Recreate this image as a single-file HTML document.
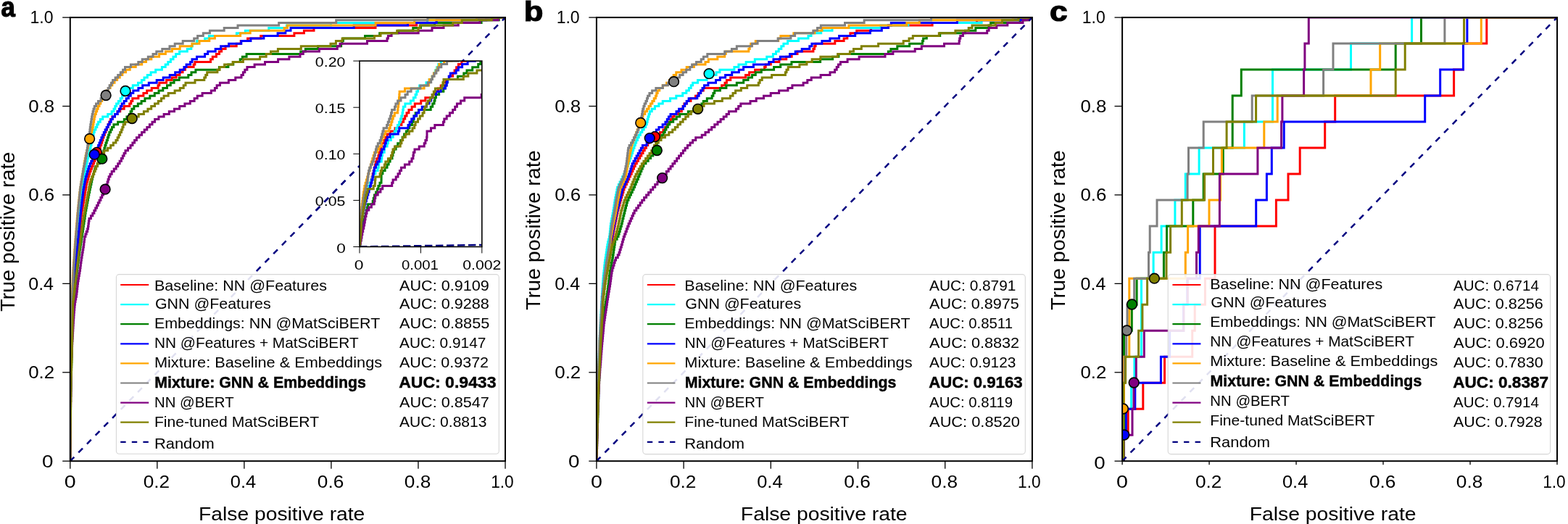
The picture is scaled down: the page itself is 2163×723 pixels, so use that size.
<!DOCTYPE html>
<html><head><meta charset="utf-8"><style>html,body{margin:0;padding:0;background:#fff;overflow:hidden;width:2163px;height:723px;}svg{display:block;}</style></head><body>
<svg width="2163" height="723" viewBox="0 0 2163 723" font-family="'Liberation Sans', Arial, sans-serif">
<rect width="100%" height="100%" fill="#fff"/>
<defs>
<clipPath id="clipa"><rect x="96.80" y="24.10" width="600.20" height="612.10"/></clipPath>
<clipPath id="clipb"><rect x="822.90" y="24.10" width="601.00" height="612.10"/></clipPath>
<clipPath id="clipc"><rect x="1548.10" y="24.10" width="599.90" height="612.10"/></clipPath>
<clipPath id="clipi"><rect x="496.0" y="84.1" width="168.80" height="256.40"/></clipPath>
<clipPath id="clipaout"><rect x="420" y="215" width="75.2" height="100"/></clipPath>
</defs>
<g clip-path="url(#clipa)" fill="none" stroke-linejoin="miter">
<polyline points="96.8,636.2 96.8,632.6 96.9,632.6 96.9,621.8 97,621.8 97,611 97.1,611 97.1,600.2 97.2,600.2 97.2,589.4 97.3,589.4 97.3,578.6 97.4,578.6 97.4,567.8 97.5,567.8 97.5,557 97.6,557 97.6,546.2 97.7,546.2 97.7,539 97.8,539 97.8,531.8 97.9,531.8 97.9,528.2 98,528.2 98,524.6 98.1,524.6 98.1,517.4 98.2,517.4 98.2,513.8 98.3,513.8 98.3,510.2 98.4,510.2 98.4,506.6 98.5,506.6 98.5,499.4 98.6,499.4 98.6,495.8 98.7,495.8 98.7,492.2 98.8,492.2 98.8,485 98.9,485 98.9,481.4 99,481.4 99,477.8 99.1,477.8 99.1,470.6 99.2,470.6 99.2,467 99.3,467 99.3,463.4 99.4,463.4 99.4,459.8 99.5,459.8 99.5,456.2 99.7,456.2 99.7,452.6 99.8,452.6 99.8,449 99.9,449 99.9,445.4 100,445.4 100,441.8 100.1,441.8 100.1,438.2 100.2,438.2 100.2,434.6 100.3,434.6 100.3,431 100.4,431 100.4,427.4 100.5,427.4 100.5,423.8 100.6,423.8 100.6,420.2 100.7,420.2 100.7,416.6 101,416.6 101,413 101.3,413 101.3,409.4 101.5,409.4 101.5,405.8 101.8,405.8 101.8,402.2 102.1,402.2 102.1,398.6 102.3,398.6 102.3,395 102.6,395 102.6,391.4 103,391.4 103,387.8 103.4,387.8 103.4,384.2 103.7,384.2 103.7,380.6 104.1,380.6 104.1,377 104.4,377 104.4,373.4 104.8,373.4 104.8,369.8 105.2,369.8 105.2,366.2 105.5,366.2 105.5,362.6 105.9,362.6 105.9,359 106.2,359 106.2,355.4 106.6,355.4 106.6,351.8 107,351.8 107,348.2 107.3,348.2 107.3,344.6 107.7,344.6 107.7,341 108,341 108,337.4 108.4,337.4 108.4,333.8 108.8,333.8 108.8,330.2 109.1,330.2 109.1,326.6 109.5,326.6 109.5,323 109.8,323 109.8,319.4 110.2,319.4 110.2,315.8 110.6,315.8 110.6,312.2 110.9,312.2 110.9,308.6 111.3,308.6 111.3,305 111.6,305 111.6,301.4 112,301.4 112,297.8 112.4,297.8 112.4,294.2 113,294.2 113,290.6 113.6,290.6 113.6,287 114.2,287 114.2,283.4 114.8,283.4 114.8,279.8 115.4,279.8 115.4,276.2 116,276.2 116,272.6 116.6,272.6 116.6,269 117.2,269 117.2,265.4 117.8,265.4 117.8,261.8 118.4,261.8 118.4,258.2 119,258.2 119,254.6 119.6,254.6 119.6,251 120.6,251 120.6,247.4 121.7,247.4 121.7,243.8 122.7,243.8 122.7,240.2 123.8,240.2 123.8,236.6 125.1,236.6 125.1,233 126.6,233 126.6,229.4 128.1,229.4 128.1,225.8 129.5,225.8 129.5,222.2 131,222.2 131,218.6 132.5,218.6 132.5,215 134,215 134,211.4 135.5,211.4 135.5,207.8 136.9,207.8 136.9,204.2 138.3,204.2 138.3,200.6 139.7,200.6 139.7,197 140.8,197 140.8,193.4 141.9,193.4 141.9,189.8 143,189.8 143,186.2 144.4,186.2 144.4,182.6 146,182.6 146,179 147.6,179 147.6,175.4 149.2,175.4 149.2,171.8 150.8,171.8 150.8,168.2 152.4,168.2 152.4,164.6 154.9,164.6 154.9,161 158.5,161 158.5,157.4 162.1,157.4 162.1,153.8 165.7,153.8 165.7,150.2 171.2,150.2 171.2,146.6 178.7,146.6 178.7,143 180.8,143 180.8,139.4 182.8,139.4 182.8,135.8 190.9,135.8 190.9,132.2 197.9,132.2 197.9,128.6 202.7,128.6 202.7,125 209.2,125 209.2,121.4 218,121.4 218,117.8 219.8,117.8 219.8,114.2 229.6,114.2 229.6,110.6 237.2,110.6 237.2,107 243.1,107 243.1,103.4 247.9,103.4 247.9,99.8 252,99.8 252,96.2 255.5,96.2 255.5,92.6 267.1,92.6 267.1,89 268.9,89 268.9,85.4 290.5,85.4 290.5,81.8 293.3,81.8 293.3,78.2 298.4,78.2 298.4,74.6 302.5,74.6 302.5,71 305.6,71 305.6,67.4 311.1,67.4 311.1,63.8 326.2,63.8 326.2,60.2 332.2,60.2 332.2,56.6 341.6,56.6 341.6,53 359.7,53 359.7,49.4 405.9,49.4 405.9,45.8 419.4,45.8 419.4,42.2 433,42.2 433,38.6 518,38.6 518,35 574.7,35 574.7,31.4 602,31.4 602,27.8 670.7,27.8 670.7,24.2 697,24.2 697,24.1" stroke="#ff0000" stroke-width="3.0"/>
<polyline points="96.8,636.2 96.8,629 96.9,629 96.9,614.6 97,614.6 97,600.2 97.1,600.2 97.1,589.4 97.2,589.4 97.2,575 97.3,575 97.3,560.6 97.4,560.6 97.4,546.2 97.5,546.2 97.5,535.4 97.6,535.4 97.6,531.8 97.7,531.8 97.7,524.6 97.8,524.6 97.8,517.4 97.9,517.4 97.9,510.2 98,510.2 98,506.6 98.1,506.6 98.1,499.4 98.2,499.4 98.2,492.2 98.3,492.2 98.3,485 98.4,485 98.4,477.8 98.5,477.8 98.5,474.2 98.6,474.2 98.6,467 98.7,467 98.7,463.4 98.8,463.4 98.8,459.8 98.9,459.8 98.9,456.2 99,456.2 99,452.6 99.1,452.6 99.1,449 99.2,449 99.2,445.4 99.3,445.4 99.3,441.8 99.4,441.8 99.4,438.2 99.5,438.2 99.5,434.6 99.6,434.6 99.6,431 99.7,431 99.7,423.8 99.8,423.8 99.8,420.2 99.9,420.2 99.9,416.6 100,416.6 100,413 100.1,413 100.1,409.4 100.3,409.4 100.3,405.8 100.4,405.8 100.4,402.2 100.6,402.2 100.6,398.6 100.7,398.6 100.7,395 100.9,395 100.9,391.4 101,391.4 101,387.8 101.2,387.8 101.2,384.2 101.3,384.2 101.3,380.6 101.5,380.6 101.5,377 101.7,377 101.7,373.4 102,373.4 102,369.8 102.2,369.8 102.2,366.2 102.5,366.2 102.5,362.6 102.8,362.6 102.8,359 103.1,359 103.1,355.4 103.3,355.4 103.3,351.8 103.6,351.8 103.6,348.2 103.9,348.2 103.9,344.6 104.2,344.6 104.2,341 104.5,341 104.5,337.4 104.8,337.4 104.8,333.8 105.1,333.8 105.1,330.2 105.5,330.2 105.5,326.6 105.8,326.6 105.8,323 106.2,323 106.2,319.4 106.6,319.4 106.6,315.8 106.9,315.8 106.9,312.2 107.3,312.2 107.3,308.6 107.6,308.6 107.6,305 108,305 108,301.4 108.4,301.4 108.4,297.8 108.8,297.8 108.8,294.2 109.2,294.2 109.2,290.6 109.6,290.6 109.6,287 110,287 110,283.4 110.4,283.4 110.4,279.8 110.9,279.8 110.9,276.2 111.4,276.2 111.4,272.6 112,272.6 112,269 112.5,269 112.5,265.4 113,265.4 113,261.8 113.6,261.8 113.6,258.2 114.1,258.2 114.1,254.6 114.7,254.6 114.7,251 115.2,251 115.2,247.4 115.8,247.4 115.8,243.8 116.5,243.8 116.5,240.2 117.2,240.2 117.2,236.6 117.9,236.6 117.9,233 118.5,233 118.5,229.4 119.2,229.4 119.2,225.8 119.9,225.8 119.9,222.2 120.8,222.2 120.8,218.6 121.7,218.6 121.7,215 122.5,215 122.5,211.4 123.4,211.4 123.4,207.8 124.3,207.8 124.3,204.2 125.1,204.2 125.1,200.6 126,200.6 126,197 126.8,197 126.8,193.4 127.5,193.4 127.5,189.8 128.3,189.8 128.3,186.2 129.1,186.2 129.1,182.6 130.2,182.6 130.2,179 132,179 132,175.4 133.8,175.4 133.8,171.8 135.6,171.8 135.6,168.2 138.3,168.2 138.3,164.6 141.7,164.6 141.7,161 148.7,161 148.7,157.4 154.1,157.4 154.1,153.8 157,153.8 157,150.2 158.8,150.2 158.8,146.6 160.6,146.6 160.6,143 163.4,143 163.4,139.4 166.2,139.4 166.2,135.8 168.6,135.8 168.6,132.2 171,132.2 171,128.6 173.6,128.6 173.6,125 178.4,125 178.4,121.4 183.3,121.4 183.3,117.8 190.5,117.8 190.5,114.2 195.4,114.2 195.4,110.6 199,110.6 199,107 203.3,107 203.3,103.4 208.1,103.4 208.1,99.8 214.7,99.8 214.7,96.2 223.4,96.2 223.4,92.6 228.2,92.6 228.2,89 231.8,89 231.8,85.4 235.4,85.4 235.4,81.8 239,81.8 239,78.2 242.6,78.2 242.6,74.6 247.6,74.6 247.6,71 258.3,71 258.3,67.4 263.8,67.4 263.8,63.8 265.4,63.8 265.4,60.2 271.6,60.2 271.6,56.6 282.6,56.6 282.6,53 288.4,53 288.4,49.4 326.4,49.4 326.4,45.8 338.4,45.8 338.4,42.2 370.8,42.2 370.8,38.6 395.6,38.6 395.6,35 456.4,35 456.4,31.4 589.4,31.4 589.4,27.8 674.4,27.8 674.4,24.2 697,24.2 697,24.1" stroke="#00ffff" stroke-width="3.0"/>
<polyline points="96.8,636.2 96.8,632.6 96.9,632.6 96.9,621.8 97,621.8 97,611 97.1,611 97.1,603.8 97.2,603.8 97.2,593 97.3,593 97.3,582.2 97.4,582.2 97.4,575 97.5,575 97.5,564.2 97.6,564.2 97.6,553.4 97.7,553.4 97.7,546.2 97.8,546.2 97.8,539 97.9,539 97.9,535.4 98,535.4 98,531.8 98.1,531.8 98.1,524.6 98.2,524.6 98.2,521 98.3,521 98.3,517.4 98.4,517.4 98.4,513.8 98.5,513.8 98.5,510.2 98.6,510.2 98.6,506.6 98.7,506.6 98.7,503 98.8,503 98.8,499.4 98.9,499.4 98.9,495.8 99,495.8 99,492.2 99.1,492.2 99.1,488.6 99.2,488.6 99.2,485 99.3,485 99.3,481.4 99.4,481.4 99.4,474.2 99.5,474.2 99.5,470.6 99.6,470.6 99.6,467 99.8,467 99.8,463.4 99.9,463.4 99.9,459.8 100,459.8 100,456.2 100.2,456.2 100.2,452.6 100.3,452.6 100.3,449 100.4,449 100.4,445.4 100.6,445.4 100.6,441.8 100.7,441.8 100.7,438.2 100.8,438.2 100.8,434.6 101,434.6 101,431 101.1,431 101.1,427.4 101.2,427.4 101.2,423.8 101.4,423.8 101.4,420.2 101.5,420.2 101.5,416.6 101.7,416.6 101.7,413 102.1,413 102.1,409.4 102.5,409.4 102.5,405.8 102.9,405.8 102.9,402.2 103.3,402.2 103.3,398.6 103.7,398.6 103.7,395 104.1,395 104.1,391.4 104.5,391.4 104.5,387.8 104.9,387.8 104.9,384.2 105.4,384.2 105.4,380.6 105.8,380.6 105.8,377 106.3,377 106.3,373.4 106.7,373.4 106.7,369.8 107.2,369.8 107.2,366.2 107.6,366.2 107.6,362.6 108.1,362.6 108.1,359 108.5,359 108.5,355.4 109,355.4 109,351.8 109.5,351.8 109.5,348.2 110,348.2 110,344.6 110.6,344.6 110.6,341 111.1,341 111.1,337.4 111.7,337.4 111.7,333.8 112.2,333.8 112.2,330.2 112.7,330.2 112.7,326.6 113.3,326.6 113.3,323 113.8,323 113.8,319.4 114.4,319.4 114.4,315.8 114.9,315.8 114.9,312.2 115.4,312.2 115.4,308.6 116,308.6 116,305 116.5,305 116.5,301.4 117.1,301.4 117.1,297.8 117.6,297.8 117.6,294.2 118.1,294.2 118.1,290.6 118.8,290.6 118.8,287 119.4,287 119.4,283.4 120.1,283.4 120.1,279.8 120.8,279.8 120.8,276.2 121.5,276.2 121.5,272.6 122.1,272.6 122.1,269 122.8,269 122.8,265.4 123.6,265.4 123.6,261.8 124.3,261.8 124.3,258.2 125.1,258.2 125.1,254.6 125.9,254.6 125.9,251 126.7,251 126.7,247.4 127.4,247.4 127.4,243.8 128.5,243.8 128.5,240.2 129.6,240.2 129.6,236.6 130.7,236.6 130.7,233 131.8,233 131.8,229.4 134.3,229.4 134.3,225.8 137.3,225.8 137.3,222.2 139.8,222.2 139.8,218.6 140.9,218.6 140.9,215 141.9,215 141.9,211.4 142.9,211.4 142.9,207.8 143.9,207.8 143.9,204.2 144.9,204.2 144.9,200.6 146,200.6 146,197 147.2,197 147.2,193.4 148.4,193.4 148.4,189.8 149.6,189.8 149.6,186.2 150.8,186.2 150.8,182.6 152.6,182.6 152.6,179 154.4,179 154.4,175.4 156.9,175.4 156.9,171.8 162.6,171.8 162.6,168.2 171.3,168.2 171.3,164.6 174.9,164.6 174.9,161 178.3,161 178.3,157.4 180.1,157.4 180.1,153.8 181.9,153.8 181.9,150.2 184.9,150.2 184.9,146.6 190.3,146.6 190.3,143 195.1,143 195.1,139.4 199.9,139.4 199.9,135.8 206.8,135.8 206.8,132.2 213.3,132.2 213.3,128.6 219,128.6 219,125 224.8,125 224.8,121.4 230.5,121.4 230.5,117.8 235.3,117.8 235.3,114.2 240.1,114.2 240.1,110.6 247.2,110.6 247.2,107 259.8,107 259.8,103.4 264,103.4 264,99.8 269.9,99.8 269.9,96.2 302.4,96.2 302.4,92.6 314.9,92.6 314.9,89 321.8,89 321.8,85.4 331.2,85.4 331.2,81.8 334.4,81.8 334.4,78.2 340.1,78.2 340.1,74.6 414.7,74.6 414.7,71 421.4,71 421.4,67.4 438.7,67.4 438.7,63.8 470.6,63.8 470.6,60.2 472,60.2 472,56.6 473.4,56.6 473.4,53 503.5,53 503.5,49.4 523.7,49.4 523.7,45.8 549.6,45.8 549.6,42.2 569.8,42.2 569.8,38.6 580.5,38.6 580.5,35 599.6,35 599.6,31.4 664.1,31.4 664.1,27.8 688.3,27.8 688.3,24.2 697,24.2 697,24.1" stroke="#008000" stroke-width="3.0"/>
<polyline points="96.8,636.2 96.8,629 96.9,629 96.9,618.2 97,618.2 97,607.4 97.1,607.4 97.1,593 97.2,593 97.2,582.2 97.3,582.2 97.3,571.4 97.4,571.4 97.4,557 97.5,557 97.5,546.2 97.6,546.2 97.6,539 97.7,539 97.7,531.8 97.8,531.8 97.8,528.2 97.9,528.2 97.9,521 98,521 98,517.4 98.1,517.4 98.1,513.8 98.2,513.8 98.2,506.6 98.3,506.6 98.3,503 98.4,503 98.4,495.8 98.5,495.8 98.5,492.2 98.6,492.2 98.6,488.6 98.7,488.6 98.7,481.4 98.8,481.4 98.8,477.8 98.9,477.8 98.9,474.2 99,474.2 99,467 99.1,467 99.1,463.4 99.2,463.4 99.2,459.8 99.4,459.8 99.4,456.2 99.5,456.2 99.5,452.6 99.6,452.6 99.6,449 99.7,449 99.7,445.4 99.8,445.4 99.8,441.8 99.9,441.8 99.9,438.2 100,438.2 100,434.6 100.1,434.6 100.1,431 100.2,431 100.2,427.4 100.3,427.4 100.3,423.8 100.4,423.8 100.4,420.2 100.5,420.2 100.5,416.6 100.6,416.6 100.6,413 100.8,413 100.8,409.4 101,409.4 101,405.8 101.2,405.8 101.2,402.2 101.4,402.2 101.4,398.6 101.6,398.6 101.6,395 101.9,395 101.9,391.4 102.1,391.4 102.1,387.8 102.3,387.8 102.3,384.2 102.5,384.2 102.5,380.6 102.9,380.6 102.9,377 103.2,377 103.2,373.4 103.6,373.4 103.6,369.8 103.9,369.8 103.9,366.2 104.3,366.2 104.3,362.6 104.7,362.6 104.7,359 105,359 105,355.4 105.4,355.4 105.4,351.8 105.7,351.8 105.7,348.2 106.1,348.2 106.1,344.6 106.5,344.6 106.5,341 106.8,341 106.8,337.4 107.2,337.4 107.2,333.8 107.5,333.8 107.5,330.2 107.9,330.2 107.9,326.6 108.3,326.6 108.3,323 108.6,323 108.6,319.4 109,319.4 109,315.8 109.3,315.8 109.3,312.2 109.7,312.2 109.7,308.6 110.1,308.6 110.1,305 110.4,305 110.4,301.4 110.8,301.4 110.8,297.8 111.1,297.8 111.1,294.2 111.5,294.2 111.5,290.6 111.9,290.6 111.9,287 112.2,287 112.2,283.4 112.7,283.4 112.7,279.8 113.1,279.8 113.1,276.2 113.6,276.2 113.6,272.6 114,272.6 114,269 114.5,269 114.5,265.4 114.9,265.4 114.9,261.8 115.4,261.8 115.4,258.2 116.2,258.2 116.2,254.6 116.9,254.6 116.9,251 117.6,251 117.6,247.4 118.3,247.4 118.3,243.8 119.4,243.8 119.4,240.2 120.5,240.2 120.5,236.6 121.6,236.6 121.6,233 122.6,233 122.6,229.4 124.1,229.4 124.1,225.8 125.8,225.8 125.8,222.2 127.4,222.2 127.4,218.6 129,218.6 129,215 130.7,215 130.7,211.4 132.3,211.4 132.3,207.8 133.9,207.8 133.9,204.2 135.6,204.2 135.6,200.6 137,200.6 137,197 138.5,197 138.5,193.4 139.9,193.4 139.9,189.8 141.5,189.8 141.5,186.2 143.3,186.2 143.3,182.6 145.1,182.6 145.1,179 147.1,179 147.1,175.4 149.1,175.4 149.1,171.8 151.2,171.8 151.2,168.2 153.2,168.2 153.2,164.6 155.3,164.6 155.3,161 158.5,161 158.5,157.4 162.1,157.4 162.1,153.8 164.5,153.8 164.5,150.2 166.3,150.2 166.3,146.6 168.1,146.6 168.1,143 171.1,143 171.1,139.4 174.2,139.4 174.2,135.8 177.3,135.8 177.3,132.2 180.3,132.2 180.3,128.6 183.8,128.6 183.8,125 190.9,125 190.9,121.4 196.7,121.4 196.7,117.8 205.3,117.8 205.3,114.2 216.2,114.2 216.2,110.6 225.2,110.6 225.2,107 234.2,107 234.2,103.4 241.7,103.4 241.7,99.8 248.2,99.8 248.2,96.2 253.9,96.2 253.9,92.6 257.1,92.6 257.1,89 262.6,89 262.6,85.4 265,85.4 265,81.8 271.5,81.8 271.5,78.2 282.6,78.2 282.6,74.6 286.7,74.6 286.7,71 297.2,71 297.2,67.4 304.6,67.4 304.6,63.8 315.6,63.8 315.6,60.2 332.8,60.2 332.8,56.6 345.9,56.6 345.9,53 363.9,53 363.9,49.4 383.1,49.4 383.1,45.8 393.8,45.8 393.8,42.2 401,42.2 401,38.6 488.2,38.6 488.2,35 562.6,35 562.6,31.4 602.2,31.4 602.2,27.8 670.7,27.8 670.7,24.2 697,24.2 697,24.1" stroke="#0000ff" stroke-width="3.0"/>
<polyline points="96.8,636.2 96.8,625.4 96.9,625.4 96.9,607.4 97,607.4 97,589.4 97.1,589.4 97.1,567.8 97.2,567.8 97.2,549.8 97.3,549.8 97.3,535.4 97.4,535.4 97.4,524.6 97.5,524.6 97.5,513.8 97.6,513.8 97.6,506.6 97.7,506.6 97.7,495.8 97.8,495.8 97.8,485 97.9,485 97.9,474.2 98,474.2 98,467 98.1,467 98.1,463.4 98.2,463.4 98.2,456.2 98.3,456.2 98.3,452.6 98.4,452.6 98.4,449 98.5,449 98.5,441.8 98.6,441.8 98.6,438.2 98.7,438.2 98.7,434.6 98.8,434.6 98.8,427.4 98.9,427.4 98.9,423.8 99,423.8 99,420.2 99.1,420.2 99.1,413 99.2,413 99.2,409.4 99.4,409.4 99.4,405.8 99.5,405.8 99.5,402.2 99.7,402.2 99.7,398.6 99.8,398.6 99.8,395 100,395 100,391.4 100.1,391.4 100.1,387.8 100.3,387.8 100.3,384.2 100.4,384.2 100.4,380.6 100.6,380.6 100.6,377 100.8,377 100.8,373.4 101,373.4 101,369.8 101.3,369.8 101.3,366.2 101.5,366.2 101.5,362.6 101.8,362.6 101.8,359 102.1,359 102.1,355.4 102.3,355.4 102.3,351.8 102.6,351.8 102.6,348.2 102.8,348.2 102.8,344.6 103.1,344.6 103.1,341 103.3,341 103.3,337.4 103.6,337.4 103.6,333.8 103.9,333.8 103.9,330.2 104.2,330.2 104.2,326.6 104.5,326.6 104.5,323 104.8,323 104.8,319.4 105.1,319.4 105.1,315.8 105.4,315.8 105.4,312.2 105.7,312.2 105.7,308.6 106,308.6 106,305 106.3,305 106.3,301.4 106.6,301.4 106.6,297.8 106.9,297.8 106.9,294.2 107.3,294.2 107.3,290.6 107.6,290.6 107.6,287 108,287 108,283.4 108.3,283.4 108.3,279.8 108.7,279.8 108.7,276.2 109.1,276.2 109.1,272.6 109.4,272.6 109.4,269 109.8,269 109.8,265.4 110.3,265.4 110.3,261.8 110.9,261.8 110.9,258.2 111.4,258.2 111.4,254.6 112,254.6 112,251 112.6,251 112.6,247.4 113.1,247.4 113.1,243.8 113.7,243.8 113.7,240.2 114.3,240.2 114.3,236.6 114.9,236.6 114.9,233 115.5,233 115.5,229.4 116.1,229.4 116.1,225.8 116.7,225.8 116.7,222.2 117.3,222.2 117.3,218.6 118,218.6 118,215 118.9,215 118.9,211.4 119.7,211.4 119.7,207.8 120.6,207.8 120.6,204.2 121.4,204.2 121.4,200.6 122.2,200.6 122.2,197 122.8,197 122.8,193.4 123.5,193.4 123.5,189.8 124.5,189.8 124.5,186.2 125.6,186.2 125.6,182.6 126.7,182.6 126.7,179 127.5,179 127.5,175.4 128.2,175.4 128.2,171.8 128.9,171.8 128.9,168.2 129.6,168.2 129.6,164.6 130.2,164.6 130.2,161 131,161 131,157.4 132.3,157.4 132.3,153.8 133.7,153.8 133.7,150.2 135.2,150.2 135.2,146.6 137,146.6 137,143 138.8,143 138.8,139.4 140.7,139.4 140.7,135.8 142.8,135.8 142.8,132.2 144.9,132.2 144.9,128.6 147,128.6 147,125 149.4,125 149.4,121.4 152.1,121.4 152.1,117.8 154.8,117.8 154.8,114.2 158,114.2 158,110.6 161.6,110.6 161.6,107 165.2,107 165.2,103.4 168.8,103.4 168.8,99.8 173.5,99.8 173.5,96.2 179.2,96.2 179.2,92.6 187.2,92.6 187.2,89 195.7,89 195.7,85.4 201.5,85.4 201.5,81.8 208.8,81.8 208.8,78.2 219.6,78.2 219.6,74.6 228.4,74.6 228.4,71 237.4,71 237.4,67.4 248.2,67.4 248.2,63.8 264.9,63.8 264.9,60.2 275,60.2 275,56.6 288.8,56.6 288.8,53 296.4,53 296.4,49.4 331.6,49.4 331.6,45.8 345.2,45.8 345.2,42.2 392.1,42.2 392.1,38.6 396.5,38.6 396.5,35 518.1,35 518.1,31.4 571.7,31.4 571.7,27.8 657.5,27.8 657.5,24.2 697,24.2 697,24.1" stroke="#ffa500" stroke-width="3.0"/>
<polyline points="96.8,636.2 96.8,629 96.9,629 96.9,611 97,611 97,596.6 97.1,596.6 97.1,578.6 97.2,578.6 97.2,564.2 97.3,564.2 97.3,549.8 97.4,549.8 97.4,535.4 97.5,535.4 97.5,528.2 97.6,528.2 97.6,517.4 97.7,517.4 97.7,510.2 97.8,510.2 97.8,499.4 97.9,499.4 97.9,492.2 98,492.2 98,481.4 98.1,481.4 98.1,474.2 98.2,474.2 98.2,467 98.3,467 98.3,463.4 98.4,463.4 98.4,459.8 98.5,459.8 98.5,452.6 98.6,452.6 98.6,449 98.7,449 98.7,445.4 98.8,445.4 98.8,441.8 98.9,441.8 98.9,434.6 99,434.6 99,431 99.1,431 99.1,427.4 99.2,427.4 99.2,423.8 99.3,423.8 99.3,416.6 99.4,416.6 99.4,413 99.5,413 99.5,409.4 99.7,409.4 99.7,405.8 99.9,405.8 99.9,402.2 100.1,402.2 100.1,398.6 100.3,398.6 100.3,395 100.4,395 100.4,391.4 100.6,391.4 100.6,387.8 100.8,387.8 100.8,384.2 101,384.2 101,380.6 101.2,380.6 101.2,377 101.3,377 101.3,373.4 101.5,373.4 101.5,369.8 101.8,369.8 101.8,366.2 102,366.2 102,362.6 102.3,362.6 102.3,359 102.5,359 102.5,355.4 102.8,355.4 102.8,351.8 103,351.8 103,348.2 103.3,348.2 103.3,344.6 103.6,344.6 103.6,341 103.8,341 103.8,337.4 104.1,337.4 104.1,333.8 104.3,333.8 104.3,330.2 104.6,330.2 104.6,326.6 104.9,326.6 104.9,323 105.2,323 105.2,319.4 105.5,319.4 105.5,315.8 105.8,315.8 105.8,312.2 106.1,312.2 106.1,308.6 106.4,308.6 106.4,305 106.7,305 106.7,301.4 107,301.4 107,297.8 107.3,297.8 107.3,294.2 107.6,294.2 107.6,290.6 107.9,290.6 107.9,287 108.3,287 108.3,283.4 108.6,283.4 108.6,279.8 109,279.8 109,276.2 109.4,276.2 109.4,272.6 109.7,272.6 109.7,269 110.1,269 110.1,265.4 110.4,265.4 110.4,261.8 110.8,261.8 110.8,258.2 111.4,258.2 111.4,254.6 112,254.6 112,251 112.6,251 112.6,247.4 113.2,247.4 113.2,243.8 113.8,243.8 113.8,240.2 114.4,240.2 114.4,236.6 115,236.6 115,233 115.7,233 115.7,229.4 116.4,229.4 116.4,225.8 117.2,225.8 117.2,222.2 117.9,222.2 117.9,218.6 118.5,218.6 118.5,215 119.1,215 119.1,211.4 119.7,211.4 119.7,207.8 120.3,207.8 120.3,204.2 120.8,204.2 120.8,200.6 121.4,200.6 121.4,197 122,197 122,193.4 122.5,193.4 122.5,189.8 123,189.8 123,186.2 123.5,186.2 123.5,182.6 123.9,182.6 123.9,179 124.3,179 124.3,175.4 124.8,175.4 124.8,171.8 125.4,171.8 125.4,168.2 126,168.2 126,164.6 126.6,164.6 126.6,161 127.2,161 127.2,157.4 128.1,157.4 128.1,153.8 129,153.8 129,150.2 130.3,150.2 130.3,146.6 132.5,146.6 132.5,143 135.5,143 135.5,139.4 139.1,139.4 139.1,135.8 142.7,135.8 142.7,132.2 146,132.2 146,128.6 147.5,128.6 147.5,125 149.1,125 149.1,121.4 151.1,121.4 151.1,117.8 153.4,117.8 153.4,114.2 155.6,114.2 155.6,110.6 159.1,110.6 159.1,107 162.7,107 162.7,103.4 166.3,103.4 166.3,99.8 169.6,99.8 169.6,96.2 172.5,96.2 172.5,92.6 180.4,92.6 180.4,89 190.8,89 190.8,85.4 196.2,85.4 196.2,81.8 204.3,81.8 204.3,78.2 211,78.2 211,74.6 215.8,74.6 215.8,71 223.8,71 223.8,67.4 234,67.4 234,63.8 241.2,63.8 241.2,60.2 252.2,60.2 252.2,56.6 267.7,56.6 267.7,53 272.6,53 272.6,49.4 280.3,49.4 280.3,45.8 289.4,45.8 289.4,42.2 309.2,42.2 309.2,38.6 328,38.6 328,35 384.7,35 384.7,31.4 463.7,31.4 463.7,27.8 590,27.8 590,24.2 697,24.2 697,24.1" stroke="#808080" stroke-width="3.0"/>
<polyline points="96.8,636.2 96.8,629 96.9,629 96.9,618.2 97,618.2 97,607.4 97.1,607.4 97.1,596.6 97.2,596.6 97.2,585.8 97.3,585.8 97.3,575 97.4,575 97.4,567.8 97.5,567.8 97.5,560.6 97.6,560.6 97.6,553.4 97.7,553.4 97.7,542.6 97.8,542.6 97.8,535.4 97.9,535.4 97.9,528.2 98,528.2 98,521 98.1,521 98.1,510.2 98.2,510.2 98.2,503 98.3,503 98.3,499.4 98.4,499.4 98.4,495.8 98.6,495.8 98.6,492.2 98.8,492.2 98.8,488.6 99,488.6 99,485 99.2,485 99.2,481.4 99.4,481.4 99.4,477.8 99.6,477.8 99.6,474.2 99.8,474.2 99.8,470.6 100,470.6 100,467 100.2,467 100.2,463.4 100.4,463.4 100.4,459.8 100.6,459.8 100.6,456.2 100.8,456.2 100.8,452.6 101,452.6 101,449 101.2,449 101.2,445.4 101.4,445.4 101.4,441.8 101.6,441.8 101.6,438.2 101.9,438.2 101.9,434.6 102.1,434.6 102.1,431 102.4,431 102.4,427.4 102.7,427.4 102.7,423.8 103,423.8 103,420.2 103.4,420.2 103.4,416.6 104,416.6 104,413 104.7,413 104.7,409.4 105.4,409.4 105.4,405.8 105.9,405.8 105.9,402.2 106.3,402.2 106.3,398.6 106.7,398.6 106.7,395 107.1,395 107.1,391.4 107.5,391.4 107.5,387.8 108.1,387.8 108.1,384.2 108.7,384.2 108.7,380.6 109.3,380.6 109.3,377 109.9,377 109.9,373.4 110.5,373.4 110.5,369.8 111,369.8 111,366.2 111.4,366.2 111.4,362.6 111.9,362.6 111.9,359 112.4,359 112.4,355.4 113,355.4 113,351.8 113.6,351.8 113.6,348.2 114.2,348.2 114.2,344.6 114.8,344.6 114.8,341 115.4,341 115.4,337.4 115.8,337.4 115.8,333.8 116.3,333.8 116.3,330.2 116.7,330.2 116.7,326.6 117.9,326.6 117.9,323 119.2,323 119.2,319.4 120.6,319.4 120.6,315.8 121.5,315.8 121.5,312.2 122,312.2 122,308.6 122.4,308.6 122.4,305 123,305 123,301.4 125.4,301.4 125.4,297.8 127.8,297.8 127.8,294.2 129.9,294.2 129.9,290.6 131.7,290.6 131.7,287 133.5,287 133.5,283.4 135.3,283.4 135.3,279.8 137.1,279.8 137.1,276.2 138.9,276.2 138.9,272.6 140.7,272.6 140.7,269 142.5,269 142.5,265.4 144.3,265.4 144.3,261.8 145.9,261.8 145.9,258.2 147,258.2 147,254.6 148.1,254.6 148.1,251 149.1,251 149.1,247.4 150.2,247.4 150.2,243.8 152,243.8 152,240.2 154.2,240.2 154.2,236.6 157.2,236.6 157.2,233 160.2,233 160.2,229.4 162.7,229.4 162.7,225.8 165.1,225.8 165.1,222.2 167.4,222.2 167.4,218.6 169.3,218.6 169.3,215 171.1,215 171.1,211.4 173,211.4 173,207.8 176.5,207.8 176.5,204.2 180.1,204.2 180.1,200.6 182.9,200.6 182.9,197 185.6,197 185.6,193.4 188.4,193.4 188.4,189.8 192,189.8 192,186.2 195.6,186.2 195.6,182.6 199.2,182.6 199.2,179 202.8,179 202.8,175.4 206.4,175.4 206.4,171.8 210,171.8 210,168.2 213.6,168.2 213.6,164.6 218.9,164.6 218.9,161 226.1,161 226.1,157.4 233.3,157.4 233.3,153.8 240.5,153.8 240.5,150.2 247.7,150.2 247.7,146.6 254.9,146.6 254.9,143 262.3,143 262.3,139.4 268.1,139.4 268.1,135.8 272.2,135.8 272.2,132.2 279.1,132.2 279.1,128.6 291.3,128.6 291.3,125 296.4,125 296.4,121.4 299.1,121.4 299.1,117.8 303.4,117.8 303.4,114.2 315.4,114.2 315.4,110.6 324.8,110.6 324.8,107 333,107 333,103.4 335.4,103.4 335.4,99.8 337.8,99.8 337.8,96.2 340.9,96.2 340.9,92.6 351.1,92.6 351.1,89 365.5,89 365.5,85.4 383.6,85.4 383.6,81.8 398.9,81.8 398.9,78.2 414,78.2 414,74.6 418.3,74.6 418.3,71 440.4,71 440.4,67.4 465.3,67.4 465.3,63.8 469,63.8 469,60.2 506.5,60.2 506.5,56.6 534,56.6 534,53 535.4,53 535.4,49.4 540.1,49.4 540.1,45.8 577.2,45.8 577.2,42.2 596,42.2 596,38.6 612,38.6 612,35 632.2,35 632.2,31.4 662,31.4 662,27.8 687.2,27.8 687.2,24.2 697,24.2 697,24.1" stroke="#800080" stroke-width="3.0"/>
<polyline points="96.8,636.2 96.8,632.6 96.9,632.6 96.9,621.8 97,621.8 97,611 97.1,611 97.1,603.8 97.2,603.8 97.2,593 97.3,593 97.3,582.2 97.4,582.2 97.4,575 97.5,575 97.5,564.2 97.6,564.2 97.6,553.4 97.7,553.4 97.7,546.2 97.8,546.2 97.8,539 97.9,539 97.9,535.4 98,535.4 98,531.8 98.1,531.8 98.1,524.6 98.2,524.6 98.2,521 98.3,521 98.3,517.4 98.4,517.4 98.4,513.8 98.5,513.8 98.5,510.2 98.6,510.2 98.6,506.6 98.7,506.6 98.7,503 98.8,503 98.8,499.4 98.9,499.4 98.9,495.8 99,495.8 99,492.2 99.1,492.2 99.1,488.6 99.2,488.6 99.2,485 99.3,485 99.3,481.4 99.4,481.4 99.4,474.2 99.5,474.2 99.5,470.6 99.6,470.6 99.6,467 99.7,467 99.7,463.4 99.8,463.4 99.8,459.8 99.9,459.8 99.9,452.6 100,452.6 100,449 100.1,449 100.1,445.4 100.2,445.4 100.2,438.2 100.3,438.2 100.3,434.6 100.4,434.6 100.4,431 100.5,431 100.5,423.8 100.6,423.8 100.6,420.2 100.7,420.2 100.7,416.6 101.1,416.6 101.1,413 101.6,413 101.6,409.4 102,409.4 102,405.8 102.4,405.8 102.4,402.2 102.8,402.2 102.8,398.6 103.2,398.6 103.2,395 103.6,395 103.6,391.4 104,391.4 104,387.8 104.4,387.8 104.4,384.2 104.8,384.2 104.8,380.6 105.2,380.6 105.2,377 105.6,377 105.6,373.4 106,373.4 106,369.8 106.4,369.8 106.4,366.2 106.9,366.2 106.9,362.6 107.3,362.6 107.3,359 107.8,359 107.8,355.4 108.2,355.4 108.2,351.8 108.7,351.8 108.7,348.2 109.1,348.2 109.1,344.6 109.6,344.6 109.6,341 110,341 110,337.4 110.5,337.4 110.5,333.8 111,333.8 111,330.2 111.4,330.2 111.4,326.6 111.9,326.6 111.9,323 112.4,323 112.4,319.4 112.9,319.4 112.9,315.8 113.4,315.8 113.4,312.2 113.9,312.2 113.9,308.6 114.4,308.6 114.4,305 114.9,305 114.9,301.4 115.4,301.4 115.4,297.8 116.1,297.8 116.1,294.2 116.8,294.2 116.8,290.6 117.4,290.6 117.4,287 118.1,287 118.1,283.4 118.8,283.4 118.8,279.8 119.5,279.8 119.5,276.2 120.1,276.2 120.1,272.6 120.8,272.6 120.8,269 121.5,269 121.5,265.4 122.2,265.4 122.2,261.8 122.8,261.8 122.8,258.2 123.5,258.2 123.5,254.6 124.2,254.6 124.2,251 125.4,251 125.4,247.4 126.8,247.4 126.8,243.8 128.3,243.8 128.3,240.2 129.7,240.2 129.7,236.6 131.2,236.6 131.2,233 132.7,233 132.7,229.4 134.2,229.4 134.2,225.8 135.7,225.8 135.7,222.2 137.2,222.2 137.2,218.6 138.7,218.6 138.7,215 140.2,215 140.2,211.4 143.7,211.4 143.7,207.8 148.5,207.8 148.5,204.2 152.7,204.2 152.7,200.6 156.3,200.6 156.3,197 159.9,197 159.9,193.4 162.1,193.4 162.1,189.8 163.9,189.8 163.9,186.2 165.7,186.2 165.7,182.6 167.5,182.6 167.5,179 168.9,179 168.9,175.4 170.1,175.4 170.1,171.8 172.6,171.8 172.6,168.2 176.7,168.2 176.7,164.6 183.6,164.6 183.6,161 191.2,161 191.2,157.4 198.4,157.4 198.4,153.8 203.9,153.8 203.9,150.2 208.7,150.2 208.7,146.6 213.5,146.6 213.5,143 218.3,143 218.3,139.4 222.5,139.4 222.5,135.8 226.1,135.8 226.1,132.2 232.2,132.2 232.2,128.6 241.1,128.6 241.1,125 248.3,125 248.3,121.4 253.2,121.4 253.2,117.8 256,117.8 256,114.2 269,114.2 269,110.6 281.8,110.6 281.8,107 283.7,107 283.7,103.4 285.7,103.4 285.7,99.8 299.9,99.8 299.9,96.2 303.1,96.2 303.1,92.6 309.6,92.6 309.6,89 321.1,89 321.1,85.4 335.4,85.4 335.4,81.8 358.6,81.8 358.6,78.2 367.2,78.2 367.2,74.6 373.5,74.6 373.5,71 383.4,71 383.4,67.4 415.3,67.4 415.3,63.8 456,63.8 456,60.2 463.4,60.2 463.4,56.6 472.1,56.6 472.1,53 516.5,53 516.5,49.4 525,49.4 525,45.8 547.7,45.8 547.7,42.2 577,42.2 577,38.6 579.2,38.6 579.2,35 624.7,35 624.7,31.4 637.2,31.4 637.2,27.8 678.2,27.8 678.2,24.2 697,24.2 697,24.1" stroke="#808000" stroke-width="3.0"/>
<line x1="96.8" y1="636.2" x2="697.0" y2="24.1" stroke="#000080" stroke-width="2.5" stroke-dasharray="8.2 8.5" stroke-dashoffset="0.3"/>
<circle cx="133.50" cy="210.30" r="6.85" fill="#ff0000" stroke="#000" stroke-width="1.6"/>
<circle cx="173.00" cy="125.50" r="6.85" fill="#00ffff" stroke="#000" stroke-width="1.6"/>
<circle cx="140.80" cy="219.20" r="6.85" fill="#008000" stroke="#000" stroke-width="1.6"/>
<circle cx="130.20" cy="213.20" r="6.85" fill="#0000ff" stroke="#000" stroke-width="1.6"/>
<circle cx="123.60" cy="191.50" r="6.85" fill="#ffa500" stroke="#000" stroke-width="1.6"/>
<circle cx="146.10" cy="131.50" r="6.85" fill="#808080" stroke="#000" stroke-width="1.6"/>
<circle cx="145.10" cy="261.20" r="6.85" fill="#800080" stroke="#000" stroke-width="1.6"/>
<circle cx="182.20" cy="163.50" r="6.85" fill="#808000" stroke="#000" stroke-width="1.6"/>
</g>
<line x1="86.20" y1="636.20" x2="96.80" y2="636.20" stroke="#000" stroke-width="1.3"/>
<line x1="96.80" y1="636.20" x2="96.80" y2="646.80" stroke="#000" stroke-width="1.3"/>
<line x1="86.20" y1="513.78" x2="96.80" y2="513.78" stroke="#000" stroke-width="1.3"/>
<line x1="216.84" y1="636.20" x2="216.84" y2="646.80" stroke="#000" stroke-width="1.3"/>
<line x1="86.20" y1="391.36" x2="96.80" y2="391.36" stroke="#000" stroke-width="1.3"/>
<line x1="336.88" y1="636.20" x2="336.88" y2="646.80" stroke="#000" stroke-width="1.3"/>
<line x1="86.20" y1="268.94" x2="96.80" y2="268.94" stroke="#000" stroke-width="1.3"/>
<line x1="456.92" y1="636.20" x2="456.92" y2="646.80" stroke="#000" stroke-width="1.3"/>
<line x1="86.20" y1="146.52" x2="96.80" y2="146.52" stroke="#000" stroke-width="1.3"/>
<line x1="576.96" y1="636.20" x2="576.96" y2="646.80" stroke="#000" stroke-width="1.3"/>
<line x1="86.20" y1="24.10" x2="96.80" y2="24.10" stroke="#000" stroke-width="1.3"/>
<line x1="697.00" y1="636.20" x2="697.00" y2="646.80" stroke="#000" stroke-width="1.3"/>
<rect x="96.80" y="24.10" width="600.20" height="612.10" fill="none" stroke="#000" stroke-width="2.0"/>
<text x="58.01" y="644.50" font-size="23.3" textLength="15.44" lengthAdjust="spacingAndGlyphs">0</text>
<text x="88.82" y="673.30" font-size="23.3" textLength="15.92" lengthAdjust="spacingAndGlyphs">0</text>
<text x="39.19" y="522.08" font-size="23.3" textLength="35.95" lengthAdjust="spacingAndGlyphs">0.2</text>
<text x="197.71" y="673.30" font-size="23.3" textLength="36.49" lengthAdjust="spacingAndGlyphs">0.2</text>
<text x="39.23" y="399.66" font-size="23.3" textLength="34.79" lengthAdjust="spacingAndGlyphs">0.4</text>
<text x="317.79" y="673.30" font-size="23.3" textLength="35.32" lengthAdjust="spacingAndGlyphs">0.4</text>
<text x="39.19" y="277.24" font-size="23.3" textLength="35.95" lengthAdjust="spacingAndGlyphs">0.6</text>
<text x="437.79" y="673.30" font-size="23.3" textLength="36.49" lengthAdjust="spacingAndGlyphs">0.6</text>
<text x="39.19" y="154.82" font-size="23.3" textLength="35.95" lengthAdjust="spacingAndGlyphs">0.8</text>
<text x="557.83" y="673.30" font-size="23.3" textLength="36.49" lengthAdjust="spacingAndGlyphs">0.8</text>
<text x="41.53" y="32.40" font-size="23.3" textLength="31.96" lengthAdjust="spacingAndGlyphs">1.0</text>
<text x="677.15" y="673.30" font-size="23.3" textLength="31.53" lengthAdjust="spacingAndGlyphs">1.0</text>
<rect x="160.40" y="378.60" width="527.90" height="247.70" rx="4" ry="4" fill="#fff" fill-opacity="0.88" stroke="#cccccc" stroke-opacity="0.8" stroke-width="1.1"/>
<line x1="166.20" y1="393.00" x2="205.20" y2="393.00" stroke="#ff0000" stroke-width="2.2"/>
<text x="212.95" y="400.80" font-size="21" textLength="237.95" lengthAdjust="spacingAndGlyphs">Baseline: NN @Features</text>
<text x="551.00" y="400.80" font-size="21" textLength="123.79" lengthAdjust="spacingAndGlyphs">AUC: 0.9109</text>
<line x1="166.20" y1="420.10" x2="205.20" y2="420.10" stroke="#00ffff" stroke-width="2.2"/>
<text x="213.98" y="425.80" font-size="21" textLength="159.74" lengthAdjust="spacingAndGlyphs">GNN @Features</text>
<text x="551.00" y="425.80" font-size="21" textLength="123.89" lengthAdjust="spacingAndGlyphs">AUC: 0.9288</text>
<line x1="166.20" y1="447.20" x2="205.20" y2="447.20" stroke="#008000" stroke-width="2.2"/>
<text x="212.96" y="452.80" font-size="21" textLength="311.25" lengthAdjust="spacingAndGlyphs">Embeddings: NN @MatSciBERT</text>
<text x="551.00" y="452.80" font-size="21" textLength="124.29" lengthAdjust="spacingAndGlyphs">AUC: 0.8855</text>
<line x1="166.20" y1="474.30" x2="205.20" y2="474.30" stroke="#0000ff" stroke-width="2.2"/>
<text x="213.02" y="479.90" font-size="21" textLength="281.59" lengthAdjust="spacingAndGlyphs">NN @Features + MatSciBERT</text>
<text x="551.00" y="479.90" font-size="21" textLength="119.34" lengthAdjust="spacingAndGlyphs">AUC: 0.9147</text>
<line x1="166.20" y1="501.40" x2="205.20" y2="501.40" stroke="#ffa500" stroke-width="2.2"/>
<text x="212.93" y="506.70" font-size="21" textLength="314.19" lengthAdjust="spacingAndGlyphs">Mixture: Baseline &amp; Embeddings</text>
<text x="551.00" y="506.70" font-size="21" textLength="123.08" lengthAdjust="spacingAndGlyphs">AUC: 0.9372</text>
<line x1="166.20" y1="528.50" x2="205.20" y2="528.50" stroke="#808080" stroke-width="2.2"/>
<text x="213.29" y="534.70" font-size="22.4" font-weight="bold" textLength="291.69" lengthAdjust="spacingAndGlyphs" stroke="#000" stroke-width="0.45">Mixture: GNN &amp; Embeddings</text>
<text x="550.17" y="534.70" font-size="22.4" font-weight="bold" textLength="134.32" lengthAdjust="spacingAndGlyphs" stroke="#000" stroke-width="0.45">AUC: 0.9433</text>
<line x1="166.20" y1="555.60" x2="205.20" y2="555.60" stroke="#800080" stroke-width="2.2"/>
<text x="213.06" y="562.20" font-size="21" textLength="109.56" lengthAdjust="spacingAndGlyphs">NN @BERT</text>
<text x="551.00" y="562.20" font-size="21" textLength="123.79" lengthAdjust="spacingAndGlyphs">AUC: 0.8547</text>
<line x1="166.20" y1="582.70" x2="205.20" y2="582.70" stroke="#808000" stroke-width="2.2"/>
<text x="212.99" y="588.50" font-size="21" textLength="227.06" lengthAdjust="spacingAndGlyphs">Fine-tuned MatSciBERT</text>
<text x="551.00" y="588.50" font-size="21" textLength="120.45" lengthAdjust="spacingAndGlyphs">AUC: 0.8813</text>
<line x1="166.20" y1="609.80" x2="205.20" y2="609.80" stroke="#000080" stroke-width="2.2" stroke-dasharray="7.4 8.2"/>
<text x="212.91" y="618.70" font-size="21" textLength="82.84" lengthAdjust="spacingAndGlyphs">Random</text>
<rect x="496.0" y="84.1" width="168.80" height="256.40" fill="#fff"/>
<g clip-path="url(#clipi)" fill="none">
<polyline points="496,340.5 496.5,340.5 496.5,336.3 497.1,336.3 497.1,332.1 497.4,332.1 497.4,327.9 497.7,327.9 497.7,323.7 498,323.7 498,319.5 498.3,319.5 498.3,315.3 498.6,315.3 498.6,311.1 498.9,311.1 498.9,306.9 499.2,306.9 499.2,302.7 499.4,302.7 499.4,298.5 499.7,298.5 499.7,294.3 500,294.3 500,290.1 501.1,290.1 501.1,285.9 502.1,285.9 502.1,281.7 503.2,281.7 503.2,277.5 504.2,277.5 504.2,273.3 505.3,273.3 505.3,269.1 506.3,269.1 506.3,264.9 507.4,264.9 507.4,260.7 508.6,260.7 508.6,256.5 510.3,256.5 510.3,252.3 512,252.3 512,248.1 513.1,248.1 513.1,243.9 514.1,243.9 514.1,239.7 515.2,239.7 515.2,235.5 516.2,235.5 516.2,231.3 517.4,231.3 517.4,227.1 518.6,227.1 518.6,222.9 519.8,222.9 519.8,218.7 521.9,218.7 521.9,214.5 522.9,214.5 522.9,210.3 524.6,210.3 524.6,206.1 526,206.1 526,201.9 526.3,201.9 526.3,197.7 530.1,197.7 530.1,193.5 531.7,193.5 531.7,189.3 534.1,189.3 534.1,185.1 538.3,185.1 538.3,180.9 545,180.9 545,176.7 550.2,176.7 550.2,172.5 553.9,172.5 553.9,168.3 556.6,168.3 556.6,164.1 558.7,164.1 558.7,159.9 561,159.9 561,155.7 563.9,155.7 563.9,151.5 568.1,151.5 568.1,147.3 572.3,147.3 572.3,143.1 580.7,143.1 580.7,138.9 586.8,138.9 586.8,134.7 597.1,134.7 597.1,130.5 600.2,130.5 600.2,126.3 604.2,126.3 604.2,122.1 608.2,122.1 608.2,117.9 611.7,117.9 611.7,113.7 615.2,113.7 615.2,109.5 619.8,109.5 619.8,105.3 624.6,105.3 624.6,101.1 627.1,101.1 627.1,96.9 629.6,96.9 629.6,92.7 632.4,92.7 632.4,88.5 636.8,88.5 636.8,84.3 646,84.3 646,80.1 655.5,80.1 655.5,75.9 661.6,75.9 661.6,71.7 667.7,71.7 667.7,67.5 673.8,67.5 673.8,63.3 679.9,63.3 679.9,59.1 686,59.1 686,54.9 692.1,54.9 692.1,50.7 698.3,50.7 698.3,46.5 704.8,46.5 704.8,44.1" stroke="#ff0000" stroke-width="3.0"/>
<polyline points="496,340.5 496.5,340.5 496.5,336.3 497.1,336.3 497.1,332.1 497.2,332.1 497.2,327.9 497.3,327.9 497.3,323.7 497.5,323.7 497.5,319.5 497.6,319.5 497.6,315.3 497.7,315.3 497.7,311.1 497.9,311.1 497.9,306.9 498,306.9 498,302.7 498.4,302.7 498.4,298.5 498.9,298.5 498.9,294.3 499.3,294.3 499.3,290.1 499.8,290.1 499.8,285.9 500.6,285.9 500.6,281.7 501.7,281.7 501.7,277.5 502.7,277.5 502.7,273.3 503.8,273.3 503.8,269.1 505.3,269.1 505.3,264.9 507,264.9 507,260.7 508.6,260.7 508.6,256.5 510.3,256.5 510.3,252.3 512,252.3 512,248.1 513.7,248.1 513.7,243.9 515.4,243.9 515.4,239.7 517.9,239.7 517.9,235.5 521.1,235.5 521.1,231.3 522.3,231.3 522.3,227.1 522.7,227.1 522.7,222.9 526.2,222.9 526.2,218.7 526.8,218.7 526.8,214.5 527.5,214.5 527.5,210.3 530.2,210.3 530.2,206.1 530.6,206.1 530.6,201.9 534.1,201.9 534.1,197.7 535.5,197.7 535.5,193.5 539.3,193.5 539.3,189.3 542.2,189.3 542.2,185.1 544.3,185.1 544.3,180.9 546.4,180.9 546.4,176.7 548.5,176.7 548.5,172.5 550.6,172.5 550.6,168.3 552.5,168.3 552.5,164.1 553.7,164.1 553.7,159.9 555,159.9 555,155.7 555.7,155.7 555.7,151.5 556.4,151.5 556.4,147.3 558.9,147.3 558.9,143.1 566.4,143.1 566.4,138.9 570.4,138.9 570.4,134.7 573.1,134.7 573.1,130.5 574.7,130.5 574.7,126.3 576.6,126.3 576.6,122.1 578.7,122.1 578.7,117.9 588,117.9 588,113.7 592.2,113.7 592.2,109.5 596.2,109.5 596.2,105.3 598.5,105.3 598.5,101.1 600.6,101.1 600.6,96.9 602.7,96.9 602.7,92.7 604.8,92.7 604.8,88.5 608.1,88.5 608.1,84.3 616.2,84.3 616.2,80.1 626.1,80.1 626.1,75.9 635.9,75.9 635.9,71.7 645.6,71.7 645.6,67.5 655.4,67.5 655.4,63.3 665.1,63.3 665.1,59.1 674.9,59.1 674.9,54.9 684.6,54.9 684.6,50.7 694.4,50.7 694.4,46.5 704.8,46.5 704.8,44.1" stroke="#00ffff" stroke-width="3.0"/>
<polyline points="496,340.5 497,340.5 497,336.3 497.5,336.3 497.5,332.1 497.9,332.1 497.9,327.9 498.4,327.9 498.4,323.7 498.9,323.7 498.9,319.5 499.5,319.5 499.5,315.3 500.3,315.3 500.3,311.1 501.1,311.1 501.1,306.9 501.9,306.9 501.9,302.7 503,302.7 503,298.5 504.2,298.5 504.2,294.3 505.4,294.3 505.4,290.1 506.6,290.1 506.6,285.9 507.6,285.9 507.6,281.7 514.2,281.7 514.2,277.5 515.2,277.5 515.2,273.3 516.5,273.3 516.5,269.1 518.6,269.1 518.6,264.9 520.5,264.9 520.5,260.7 521.9,260.7 521.9,256.5 523.9,256.5 523.9,252.3 526,252.3 526,248.1 526.1,248.1 526.1,239.7 527.9,239.7 527.9,235.5 531.1,235.5 531.1,231.3 534,231.3 534,227.1 536.1,227.1 536.1,222.9 538.1,222.9 538.1,218.7 541,218.7 541,214.5 542,214.5 542,210.3 543.3,210.3 543.3,206.1 546.1,206.1 546.1,201.9 548.7,201.9 548.7,197.7 552.6,197.7 552.6,193.5 555.1,193.5 555.1,189.3 557.6,189.3 557.6,185.1 560.4,185.1 560.4,180.9 562.8,180.9 562.8,176.7 564.9,176.7 564.9,172.5 568.4,172.5 568.4,168.3 570.2,168.3 570.2,164.1 571,164.1 571,159.9 573.2,159.9 573.2,155.7 577.4,155.7 577.4,151.5 594.2,151.5 594.2,147.3 596.7,147.3 596.7,143.1 599,143.1 599,138.9 600,138.9 600,134.7 601.4,134.7 601.4,130.5 605.6,130.5 605.6,126.3 611.8,126.3 611.8,122.1 613.9,122.1 613.9,117.9 615.8,117.9 615.8,113.7 617.2,113.7 617.2,109.5 631.4,109.5 631.4,105.3 639.8,105.3 639.8,101.1 644,101.1 644,96.9 651.7,96.9 651.7,92.7 659.7,92.7 659.7,88.5 662.8,88.5 662.8,84.3 667.9,84.3 667.9,80.1 673.1,80.1 673.1,75.9 677,75.9 677,71.7 681,71.7 681,67.5 684.9,67.5 684.9,63.3 688.8,63.3 688.8,59.1 692.7,59.1 692.7,54.9 696.7,54.9 696.7,50.7 700.6,50.7 700.6,46.5 704.8,46.5 704.8,44.1" stroke="#008000" stroke-width="3.0"/>
<polyline points="496,340.5 496.5,340.5 496.5,336.3 497.2,336.3 497.2,332.1 497.5,332.1 497.5,327.9 497.8,327.9 497.8,323.7 498.1,323.7 498.1,319.5 498.4,319.5 498.4,315.3 498.7,315.3 498.7,311.1 499.1,311.1 499.1,306.9 499.4,306.9 499.4,302.7 499.7,302.7 499.7,298.5 500,298.5 500,294.3 501,294.3 501,290.1 502.1,290.1 502.1,285.9 503.1,285.9 503.1,281.7 504.2,281.7 504.2,277.5 505.4,277.5 505.4,273.3 506.6,273.3 506.6,269.1 507.8,269.1 507.8,264.9 509.1,264.9 509.1,260.7 510.5,260.7 510.5,256.5 511.7,256.5 511.7,252.3 512.9,252.3 512.9,248.1 514.1,248.1 514.1,243.9 514.8,243.9 514.8,239.7 515.5,239.7 515.5,235.5 516.4,235.5 516.4,231.3 518.5,231.3 518.5,227.1 520.8,227.1 520.8,222.9 523.2,222.9 523.2,218.7 524,218.7 524,214.5 525.4,214.5 525.4,210.3 526.9,210.3 526.9,206.1 529.6,206.1 529.6,201.9 531.1,201.9 531.1,197.7 532.3,197.7 532.3,193.5 534.3,193.5 534.3,189.3 538,189.3 538,185.1 549.3,185.1 549.3,180.9 550.8,180.9 550.8,176.7 563,176.7 563,172.5 565.1,172.5 565.1,168.3 567.7,168.3 567.7,164.1 571,164.1 571,159.9 574.7,159.9 574.7,155.7 577.9,155.7 577.9,151.5 582.2,151.5 582.2,147.3 588.5,147.3 588.5,143.1 592.1,143.1 592.1,138.9 594.6,138.9 594.6,134.7 596.3,134.7 596.3,130.5 601.8,130.5 601.8,126.3 608.1,126.3 608.1,122.1 614.4,122.1 614.4,117.9 616.2,117.9 616.2,113.7 617.2,113.7 617.2,109.5 619.2,109.5 619.2,105.3 621.3,105.3 621.3,101.1 629.1,101.1 629.1,96.9 632.3,96.9 632.3,92.7 637.6,92.7 637.6,88.5 645.1,88.5 645.1,84.3 655.3,84.3 655.3,80.1 665.3,80.1 665.3,75.9 670.2,75.9 670.2,71.7 675.1,71.7 675.1,67.5 680,67.5 680,63.3 684.9,63.3 684.9,59.1 689.8,59.1 689.8,54.9 694.7,54.9 694.7,50.7 699.6,50.7 699.6,46.5 704.8,46.5 704.8,44.1" stroke="#0000ff" stroke-width="3.0"/>
<polyline points="496,340.5 496.5,340.5 496.5,336.3 497,336.3 497,332.1 497.1,332.1 497.1,327.9 497.2,327.9 497.2,323.7 497.3,323.7 497.3,315.3 497.4,315.3 497.4,311.1 497.5,311.1 497.5,302.7 497.6,302.7 497.6,298.5 497.9,298.5 497.9,294.3 498.3,294.3 498.3,290.1 498.7,290.1 498.7,285.9 499.1,285.9 499.1,281.7 499.7,281.7 499.7,277.5 500.3,277.5 500.3,273.3 500.9,273.3 500.9,269.1 501.5,269.1 501.5,264.9 502.2,264.9 502.2,260.7 502.9,260.7 502.9,256.5 504.1,256.5 504.1,252.3 505.4,252.3 505.4,248.1 506.6,248.1 506.6,243.9 507.8,243.9 507.8,239.7 509,239.7 509,235.5 510.2,235.5 510.2,231.3 511.3,231.3 511.3,227.1 512.5,227.1 512.5,222.9 513.7,222.9 513.7,218.7 515.1,218.7 515.1,214.5 516.5,214.5 516.5,210.3 520.7,210.3 520.7,206.1 522.4,206.1 522.4,201.9 526.1,201.9 526.1,193.5 527.5,193.5 527.5,189.3 529.6,189.3 529.6,185.1 531.7,185.1 531.7,180.9 536.7,180.9 536.7,176.7 538.2,176.7 538.2,172.5 539.8,172.5 539.8,168.3 541,168.3 541,164.1 542.3,164.1 542.3,159.9 544.3,159.9 544.3,155.7 548.5,155.7 548.5,151.5 549,151.5 549,147.3 549.6,147.3 549.6,143.1 550.1,143.1 550.1,138.9 550.5,138.9 550.5,134.7 550.8,134.7 550.8,130.5 551.1,130.5 551.1,126.3 558.5,126.3 558.5,122.1 585.1,122.1 585.1,117.9 591.4,117.9 591.4,113.7 592.3,113.7 592.3,109.5 596.1,109.5 596.1,105.3 598.4,105.3 598.4,101.1 601.2,101.1 601.2,96.9 603.7,96.9 603.7,92.7 605.8,92.7 605.8,88.5 612.6,88.5 612.6,84.3 623,84.3 623,80.1 635.9,80.1 635.9,75.9 644.4,75.9 644.4,71.7 653,71.7 653,67.5 661.5,67.5 661.5,63.3 670.1,63.3 670.1,59.1 678.6,59.1 678.6,54.9 687.1,54.9 687.1,50.7 695.7,50.7 695.7,46.5 704.8,46.5 704.8,44.1" stroke="#ffa500" stroke-width="3.0"/>
<polyline points="496,340.5 496.5,340.5 496.5,336.3 497.1,336.3 497.1,332.1 497.2,332.1 497.2,323.7 497.3,323.7 497.3,319.5 497.4,319.5 497.4,315.3 497.5,315.3 497.5,311.1 497.7,311.1 497.7,306.9 498,306.9 498,302.7 498.3,302.7 498.3,298.5 498.6,298.5 498.6,294.3 498.9,294.3 498.9,290.1 499.4,290.1 499.4,285.9 500.1,285.9 500.1,281.7 500.8,281.7 500.8,277.5 501.5,277.5 501.5,273.3 502.2,273.3 502.2,269.1 503.1,269.1 503.1,264.9 504,264.9 504,260.7 504.9,260.7 504.9,256.5 506,256.5 506,252.3 507,252.3 507,248.1 507.4,248.1 507.4,243.9 507.9,243.9 507.9,239.7 508.6,239.7 508.6,235.5 509.7,235.5 509.7,231.3 511.5,231.3 511.5,227.1 513.6,227.1 513.6,222.9 515.3,222.9 515.3,218.7 516.3,218.7 516.3,214.5 517.4,214.5 517.4,210.3 518.4,210.3 518.4,206.1 519.3,206.1 519.3,201.9 521.3,201.9 521.3,197.7 524.1,197.7 524.1,193.5 525.6,193.5 525.6,189.3 526.8,189.3 526.8,185.1 527.9,185.1 527.9,180.9 529.1,180.9 529.1,176.7 533.6,176.7 533.6,172.5 535.2,172.5 535.2,168.3 536.8,168.3 536.8,164.1 538.4,164.1 538.4,159.9 539.5,159.9 539.5,155.7 540.6,155.7 540.6,151.5 544.5,151.5 544.5,147.3 545.9,147.3 545.9,143.1 548.6,143.1 548.6,138.9 553,138.9 553,134.7 559,134.7 559,130.5 562.2,130.5 562.2,126.3 567.1,126.3 567.1,122.1 579.9,122.1 579.9,117.9 590.2,117.9 590.2,113.7 594.7,113.7 594.7,109.5 596.4,109.5 596.4,105.3 599.1,105.3 599.1,101.1 601.9,101.1 601.9,96.9 604.7,96.9 604.7,92.7 608.8,92.7 608.8,88.5 616.6,88.5 616.6,84.3 632.3,84.3 632.3,80.1 645.7,80.1 645.7,75.9 653,75.9 653,71.7 660.3,71.7 660.3,67.5 667.7,67.5 667.7,63.3 675,63.3 675,59.1 682.3,59.1 682.3,54.9 689.6,54.9 689.6,50.7 697,50.7 697,46.5 704.8,46.5 704.8,44.1" stroke="#808080" stroke-width="3.0"/>
<polyline points="496,340.5 496.5,340.5 496.5,336.3 497.4,336.3 497.4,332.1 498.2,332.1 498.2,327.9 499,327.9 499,323.7 499.8,323.7 499.8,319.5 500.7,319.5 500.7,315.3 501.8,315.3 501.8,311.1 502.6,311.1 502.6,306.9 503.3,306.9 503.3,302.7 504,302.7 504,298.5 505,298.5 505,294.3 506,294.3 506,290.1 508.8,290.1 508.8,285.9 512.4,285.9 512.4,281.7 516.2,281.7 516.2,277.5 517,277.5 517,273.3 517.8,273.3 517.8,269.1 521.2,269.1 521.2,264.9 524.9,264.9 524.9,260.7 527.7,260.7 527.7,256.5 540.7,256.5 540.7,252.3 542.1,252.3 542.1,248.1 546.2,248.1 546.2,243.9 549,243.9 549,239.7 551.4,239.7 551.4,235.5 553.5,235.5 553.5,231.3 558.4,231.3 558.4,227.1 564.7,227.1 564.7,222.9 568,222.9 568,218.7 569.9,218.7 569.9,214.5 570.4,214.5 570.4,210.3 572,210.3 572,206.1 578.2,206.1 578.2,201.9 585.2,201.9 585.2,197.7 586.9,197.7 586.9,193.5 588.6,193.5 588.6,189.3 589,189.3 589,180.9 594.5,180.9 594.5,176.7 599.8,176.7 599.8,172.5 611.4,172.5 611.4,168.3 612.8,168.3 612.8,164.1 616.2,164.1 616.2,159.9 620.4,159.9 620.4,155.7 624.6,155.7 624.6,151.5 627.7,151.5 627.7,147.3 630.4,147.3 630.4,143.1 635.5,143.1 635.5,138.9 640.7,138.9 640.7,134.7 664.1,134.7 664.1,130.5 671.4,130.5 671.4,126.3 673,126.3 673,122.1 674.7,122.1 674.7,117.9 676.4,117.9 676.4,113.7 678,113.7 678,109.5 679.7,109.5 679.7,105.3 681.4,105.3 681.4,101.1 683,101.1 683,96.9 684.7,96.9 684.7,92.7 686.4,92.7 686.4,88.5 688,88.5 688,84.3 689.7,84.3 689.7,80.1 691.4,80.1 691.4,75.9 693,75.9 693,71.7 694.7,71.7 694.7,67.5 696.4,67.5 696.4,63.3 698,63.3 698,59.1 699.7,59.1 699.7,54.9 701.4,54.9 701.4,50.7 703,50.7 703,46.5 704.8,46.5 704.8,44.1" stroke="#800080" stroke-width="3.0"/>
<polyline points="496,340.5 496.2,340.5 496.2,336.3 496.6,336.3 496.6,332.1 497,332.1 497,327.9 497.3,327.9 497.3,323.7 497.7,323.7 497.7,319.5 498,319.5 498,315.3 498.3,315.3 498.3,311.1 498.6,311.1 498.6,306.9 499,306.9 499,302.7 499.6,302.7 499.6,298.5 500.3,298.5 500.3,294.3 501,294.3 501,290.1 501.7,290.1 501.7,285.9 502.5,285.9 502.5,281.7 503.2,281.7 503.2,277.5 504,277.5 504,273.3 504.8,273.3 504.8,269.1 506,269.1 506,264.9 507.2,264.9 507.2,260.7 515.2,260.7 515.2,256.5 517.2,256.5 517.2,252.3 517.5,252.3 517.5,248.1 517.9,248.1 517.9,243.9 524.1,243.9 524.1,239.7 525.2,239.7 525.2,235.5 526.7,235.5 526.7,231.3 530.4,231.3 530.4,227.1 531.8,227.1 531.8,222.9 535.4,222.9 535.4,218.7 539.5,218.7 539.5,214.5 540.9,214.5 540.9,210.3 542,210.3 542,206.1 544.5,206.1 544.5,201.9 552.2,201.9 552.2,197.7 553.9,197.7 553.9,193.5 555.7,193.5 555.7,189.3 559.3,189.3 559.3,185.1 564.4,185.1 564.4,180.9 569,180.9 569,176.7 571.7,176.7 571.7,172.5 573.1,172.5 573.1,168.3 576.5,168.3 576.5,164.1 579.3,164.1 579.3,159.9 583,159.9 583,155.7 585.1,155.7 585.1,151.5 586,151.5 586,147.3 588.2,147.3 588.2,143.1 590.1,143.1 590.1,138.9 593.5,138.9 593.5,134.7 596.2,134.7 596.2,130.5 598.3,130.5 598.3,126.3 600.4,126.3 600.4,122.1 609.5,122.1 609.5,117.9 610.9,117.9 610.9,113.7 612,113.7 612,109.5 639.3,109.5 639.3,105.3 645.8,105.3 645.8,101.1 657.9,101.1 657.9,96.9 666.5,96.9 666.5,92.7 672.5,92.7 672.5,88.5 675.4,88.5 675.4,84.3 678.4,84.3 678.4,80.1 681.3,80.1 681.3,75.9 684.2,75.9 684.2,71.7 687.1,71.7 687.1,67.5 690,67.5 690,63.3 692.9,63.3 692.9,59.1 695.8,59.1 695.8,54.9 698.8,54.9 698.8,50.7 701.7,50.7 701.7,46.5 704.8,46.5 704.8,44.1" stroke="#808000" stroke-width="3.0"/>
<line x1="496.0" y1="340.5" x2="664.8" y2="337.90" stroke="#000080" stroke-width="2.5" stroke-dasharray="10.4 4.6"/>
</g>
<line x1="487.30" y1="340.50" x2="496.0" y2="340.50" stroke="#000" stroke-width="1.0"/>
<text x="464.22" y="348.50" font-size="19.2" textLength="12.57" lengthAdjust="spacingAndGlyphs">0</text>
<line x1="487.30" y1="276.40" x2="496.0" y2="276.40" stroke="#000" stroke-width="1.0"/>
<text x="434.89" y="284.40" font-size="19.2" textLength="41.51" lengthAdjust="spacingAndGlyphs">0.05</text>
<line x1="487.30" y1="212.30" x2="496.0" y2="212.30" stroke="#000" stroke-width="1.0"/>
<text x="434.89" y="220.30" font-size="19.2" textLength="41.51" lengthAdjust="spacingAndGlyphs">0.10</text>
<line x1="487.30" y1="148.20" x2="496.0" y2="148.20" stroke="#000" stroke-width="1.0"/>
<text x="434.89" y="156.20" font-size="19.2" textLength="41.51" lengthAdjust="spacingAndGlyphs">0.15</text>
<line x1="487.30" y1="84.10" x2="496.0" y2="84.10" stroke="#000" stroke-width="1.0"/>
<text x="434.89" y="92.10" font-size="19.2" textLength="41.51" lengthAdjust="spacingAndGlyphs">0.20</text>
<line x1="496.00" y1="340.5" x2="496.00" y2="349.40" stroke="#000" stroke-width="1.0"/>
<text x="488.81" y="372.00" font-size="19.2" textLength="12.69" lengthAdjust="spacingAndGlyphs">0</text>
<line x1="580.40" y1="340.5" x2="580.40" y2="349.40" stroke="#000" stroke-width="1.0"/>
<text x="553.94" y="372.00" font-size="19.2" textLength="50.94" lengthAdjust="spacingAndGlyphs">0.001</text>
<line x1="664.80" y1="340.5" x2="664.80" y2="349.40" stroke="#000" stroke-width="1.0"/>
<text x="638.30" y="372.00" font-size="19.2" textLength="53.03" lengthAdjust="spacingAndGlyphs">0.002</text>
<rect x="496.0" y="84.1" width="168.80" height="256.40" fill="none" stroke="#000" stroke-width="1.6"/>
<g clip-path="url(#clipaout)"><line x1="96.8" y1="636.2" x2="697.0" y2="24.1" stroke="#000080" stroke-width="2.5" stroke-dasharray="8.2 8.5" stroke-dashoffset="0.3"/></g>
<g clip-path="url(#clipb)" fill="none">
<polyline points="822.9,636.2 822.9,632.6 823,632.6 823,629 823.1,629 823.1,621.8 823.2,621.8 823.2,618.2 823.3,618.2 823.3,614.6 823.4,614.6 823.4,607.4 823.5,607.4 823.5,603.8 823.6,603.8 823.6,596.6 823.7,596.6 823.7,593 823.9,593 823.9,589.4 824,589.4 824,585.8 824.1,585.8 824.1,582.2 824.2,582.2 824.2,578.6 824.3,578.6 824.3,575 824.4,575 824.4,571.4 824.5,571.4 824.5,567.8 824.6,567.8 824.6,564.2 824.7,564.2 824.7,560.6 824.8,560.6 824.8,557 824.9,557 824.9,553.4 825,553.4 825,549.8 825.1,549.8 825.1,546.2 825.2,546.2 825.2,542.6 825.3,542.6 825.3,539 825.4,539 825.4,535.4 825.5,535.4 825.5,531.8 825.6,531.8 825.6,528.2 825.8,528.2 825.8,524.6 825.9,524.6 825.9,521 826.1,521 826.1,517.4 826.2,517.4 826.2,513.8 826.4,513.8 826.4,510.2 826.6,510.2 826.6,506.6 826.7,506.6 826.7,503 826.9,503 826.9,499.4 827.1,499.4 827.1,495.8 827.2,495.8 827.2,492.2 827.4,492.2 827.4,488.6 827.5,488.6 827.5,485 827.7,485 827.7,481.4 827.9,481.4 827.9,477.8 828,477.8 828,474.2 828.2,474.2 828.2,470.6 828.4,470.6 828.4,467 828.6,467 828.6,463.4 828.8,463.4 828.8,459.8 829,459.8 829,456.2 829.2,456.2 829.2,452.6 829.4,452.6 829.4,449 829.6,449 829.6,445.4 829.8,445.4 829.8,441.8 830,441.8 830,438.2 830.2,438.2 830.2,434.6 830.4,434.6 830.4,431 830.6,431 830.6,427.4 830.8,427.4 830.8,423.8 831,423.8 831,420.2 831.2,420.2 831.2,416.6 831.4,416.6 831.4,413 831.8,413 831.8,409.4 832.3,409.4 832.3,405.8 832.9,405.8 832.9,402.2 833.4,402.2 833.4,398.6 833.9,398.6 833.9,395 834.5,395 834.5,391.4 835,391.4 835,387.8 835.6,387.8 835.6,384.2 836.1,384.2 836.1,380.6 836.6,380.6 836.6,377 837.2,377 837.2,373.4 837.7,373.4 837.7,369.8 838.3,369.8 838.3,366.2 838.8,366.2 838.8,362.6 839.3,362.6 839.3,359 839.9,359 839.9,355.4 840.6,355.4 840.6,351.8 841.3,351.8 841.3,348.2 841.9,348.2 841.9,344.6 842.6,344.6 842.6,341 843.3,341 843.3,337.4 844,337.4 844,333.8 844.5,333.8 844.5,330.2 844.9,330.2 844.9,326.6 845.4,326.6 845.4,323 846.2,323 846.2,319.4 846.9,319.4 846.9,315.8 847.6,315.8 847.6,312.2 848.3,312.2 848.3,308.6 849,308.6 849,305 849.8,305 849.8,301.4 850.5,301.4 850.5,297.8 851.2,297.8 851.2,294.2 852,294.2 852,290.6 852.9,290.6 852.9,287 853.8,287 853.8,283.4 854.8,283.4 854.8,279.8 855.7,279.8 855.7,276.2 856.8,276.2 856.8,272.6 857.8,272.6 857.8,269 858.9,269 858.9,265.4 859.9,265.4 859.9,261.8 861,261.8 861,258.2 862.7,258.2 862.7,254.6 864.4,254.6 864.4,251 866.1,251 866.1,247.4 867.8,247.4 867.8,243.8 869.5,243.8 869.5,240.2 871.2,240.2 871.2,236.6 872.8,236.6 872.8,233 874.5,233 874.5,229.4 876.2,229.4 876.2,225.8 878.3,225.8 878.3,222.2 880.5,222.2 880.5,218.6 882.7,218.6 882.7,215 884.8,215 884.8,211.4 887,211.4 887,207.8 889.2,207.8 889.2,204.2 891.4,204.2 891.4,200.6 893.7,200.6 893.7,197 896.1,197 896.1,193.4 900.3,193.4 900.3,189.8 905.1,189.8 905.1,186.2 910.4,186.2 910.4,182.6 914.9,182.6 914.9,179 917.6,179 917.6,175.4 920.3,175.4 920.3,171.8 922.9,171.8 922.9,168.2 925.3,168.2 925.3,164.6 927.7,164.6 927.7,161 930.1,161 930.1,157.4 935.8,157.4 935.8,153.8 940.3,153.8 940.3,150.2 942.1,150.2 942.1,146.6 943.9,146.6 943.9,143 947.4,143 947.4,139.4 952.9,139.4 952.9,135.8 959.5,135.8 959.5,132.2 963.1,132.2 963.1,128.6 966.7,128.6 966.7,125 970.3,125 970.3,121.4 995.6,121.4 995.6,117.8 1000,117.8 1000,114.2 1002.4,114.2 1002.4,110.6 1007.7,110.6 1007.7,107 1028.5,107 1028.5,103.4 1033.6,103.4 1033.6,99.8 1041.6,99.8 1041.6,96.2 1054.6,96.2 1054.6,92.6 1056.2,92.6 1056.2,89 1063.3,89 1063.3,85.4 1074.9,85.4 1074.9,81.8 1084.7,81.8 1084.7,78.2 1092.1,78.2 1092.1,74.6 1100,74.6 1100,71 1121.9,71 1121.9,67.4 1123.5,67.4 1123.5,63.8 1125.1,63.8 1125.1,60.2 1151.8,60.2 1151.8,56.6 1164.1,56.6 1164.1,53 1168.8,53 1168.8,49.4 1172.9,49.4 1172.9,45.8 1181.7,45.8 1181.7,42.2 1201.5,42.2 1201.5,38.6 1225.6,38.6 1225.6,35 1286.1,35 1286.1,31.4 1347.5,31.4 1347.5,27.8 1414.3,27.8 1414.3,24.2 1423.9,24.2 1423.9,24.1" stroke="#ff0000" stroke-width="3.0"/>
<polyline points="822.9,636.2 822.9,632.6 823,632.6 823,625.4 823.1,625.4 823.1,618.2 823.2,618.2 823.2,611 823.3,611 823.3,603.8 823.4,603.8 823.4,596.6 823.5,596.6 823.5,593 823.6,593 823.6,589.4 823.7,589.4 823.7,585.8 823.8,585.8 823.8,578.6 823.9,578.6 823.9,575 824,575 824,571.4 824.1,571.4 824.1,567.8 824.2,567.8 824.2,564.2 824.3,564.2 824.3,557 824.4,557 824.4,553.4 824.5,553.4 824.5,549.8 824.6,549.8 824.6,546.2 824.7,546.2 824.7,542.6 824.8,542.6 824.8,535.4 824.9,535.4 824.9,531.8 825,531.8 825,528.2 825.1,528.2 825.1,524.6 825.2,524.6 825.2,521 825.4,521 825.4,517.4 825.5,517.4 825.5,513.8 825.6,513.8 825.6,510.2 825.7,510.2 825.7,506.6 825.8,506.6 825.8,503 826,503 826,499.4 826.1,499.4 826.1,495.8 826.2,495.8 826.2,492.2 826.3,492.2 826.3,488.6 826.4,488.6 826.4,485 826.6,485 826.6,481.4 826.7,481.4 826.7,477.8 826.8,477.8 826.8,474.2 826.9,474.2 826.9,470.6 827.1,470.6 827.1,467 827.3,467 827.3,463.4 827.4,463.4 827.4,459.8 827.6,459.8 827.6,456.2 827.8,456.2 827.8,452.6 828,452.6 828,449 828.2,449 828.2,445.4 828.4,445.4 828.4,441.8 828.6,441.8 828.6,438.2 828.8,438.2 828.8,434.6 829,434.6 829,431 829.2,431 829.2,427.4 829.4,427.4 829.4,423.8 829.5,423.8 829.5,420.2 829.7,420.2 829.7,416.6 829.9,416.6 829.9,413 830.1,413 830.1,409.4 830.4,409.4 830.4,405.8 830.6,405.8 830.6,402.2 830.9,402.2 830.9,398.6 831.1,398.6 831.1,395 831.4,395 831.4,391.4 831.7,391.4 831.7,387.8 831.9,387.8 831.9,384.2 832.2,384.2 832.2,380.6 832.6,380.6 832.6,377 833,377 833,373.4 833.4,373.4 833.4,369.8 833.8,369.8 833.8,366.2 834.2,366.2 834.2,362.6 834.6,362.6 834.6,359 835.2,359 835.2,355.4 835.7,355.4 835.7,351.8 836.3,351.8 836.3,348.2 836.8,348.2 836.8,344.6 837.3,344.6 837.3,341 837.9,341 837.9,337.4 838.5,337.4 838.5,333.8 839.5,333.8 839.5,330.2 840.4,330.2 840.4,326.6 841,326.6 841,323 841.4,323 841.4,319.4 841.7,319.4 841.7,315.8 842.1,315.8 842.1,312.2 842.5,312.2 842.5,308.6 843.1,308.6 843.1,305 843.8,305 843.8,301.4 844.5,301.4 844.5,297.8 845.2,297.8 845.2,294.2 845.9,294.2 845.9,290.6 846.5,290.6 846.5,287 847,287 847,283.4 847.6,283.4 847.6,279.8 848.1,279.8 848.1,276.2 848.8,276.2 848.8,272.6 849.5,272.6 849.5,269 850.2,269 850.2,265.4 850.9,265.4 850.9,261.8 851.6,261.8 851.6,258.2 853.4,258.2 853.4,254.6 855.1,254.6 855.1,251 856.9,251 856.9,247.4 858.6,247.4 858.6,243.8 860.3,243.8 860.3,240.2 861.8,240.2 861.8,236.6 863.3,236.6 863.3,233 864.8,233 864.8,229.4 866.3,229.4 866.3,225.8 867.5,225.8 867.5,222.2 868.8,222.2 868.8,218.6 870,218.6 870,215 871.2,215 871.2,211.4 872.5,211.4 872.5,207.8 873.7,207.8 873.7,204.2 875,204.2 875,200.6 876.3,200.6 876.3,197 877.7,197 877.7,193.4 879.4,193.4 879.4,189.8 881.2,189.8 881.2,186.2 883.4,186.2 883.4,182.6 885.8,182.6 885.8,179 888.2,179 888.2,175.4 890.6,175.4 890.6,171.8 892.2,171.8 892.2,168.2 893.1,168.2 893.1,164.6 894,164.6 894,161 895.1,161 895.1,157.4 896.3,157.4 896.3,153.8 899.2,153.8 899.2,150.2 903.4,150.2 903.4,146.6 908.8,146.6 908.8,143 914.2,143 914.2,139.4 924.5,139.4 924.5,135.8 932.8,135.8 932.8,132.2 941.7,132.2 941.7,128.6 946.8,128.6 946.8,125 950.4,125 950.4,121.4 953.2,121.4 953.2,117.8 955.6,117.8 955.6,114.2 962.5,114.2 962.5,110.6 975,110.6 975,107 982.3,107 982.3,103.4 988.1,103.4 988.1,99.8 992.9,99.8 992.9,96.2 1012.9,96.2 1012.9,92.6 1018.9,92.6 1018.9,89 1029.1,89 1029.1,85.4 1041.3,85.4 1041.3,81.8 1057.7,81.8 1057.7,78.2 1066.4,78.2 1066.4,74.6 1070.5,74.6 1070.5,71 1074.2,71 1074.2,67.4 1077.8,67.4 1077.8,63.8 1080.9,63.8 1080.9,60.2 1086.6,60.2 1086.6,56.6 1101.5,56.6 1101.5,53 1115,53 1115,49.4 1119,49.4 1119,45.8 1132.7,45.8 1132.7,42.2 1148,42.2 1148,38.6 1214.9,38.6 1214.9,35 1253,35 1253,31.4 1354.1,31.4 1354.1,27.8 1406.7,27.8 1406.7,24.2 1423.9,24.2 1423.9,24.1" stroke="#00ffff" stroke-width="3.0"/>
<polyline points="822.9,636.2 823,636.2 823,632.6 823.1,632.6 823.1,629 823.2,629 823.2,625.4 823.3,625.4 823.3,621.8 823.4,621.8 823.4,618.2 823.5,618.2 823.5,614.6 823.6,614.6 823.6,611 823.7,611 823.7,607.4 823.8,607.4 823.8,603.8 823.9,603.8 823.9,600.2 824.1,600.2 824.1,596.6 824.2,596.6 824.2,593 824.3,593 824.3,589.4 824.4,589.4 824.4,585.8 824.5,585.8 824.5,582.2 824.7,582.2 824.7,578.6 824.8,578.6 824.8,575 824.9,575 824.9,571.4 825,571.4 825,567.8 825.2,567.8 825.2,564.2 825.3,564.2 825.3,560.6 825.4,560.6 825.4,557 825.5,557 825.5,553.4 825.7,553.4 825.7,549.8 825.8,549.8 825.8,546.2 825.9,546.2 825.9,542.6 826,542.6 826,539 826.2,539 826.2,535.4 826.3,535.4 826.3,531.8 826.4,531.8 826.4,528.2 826.6,528.2 826.6,524.6 826.8,524.6 826.8,521 827,521 827,517.4 827.1,517.4 827.1,513.8 827.3,513.8 827.3,510.2 827.5,510.2 827.5,506.6 827.7,506.6 827.7,503 827.9,503 827.9,499.4 828.1,499.4 828.1,495.8 828.3,495.8 828.3,492.2 828.4,492.2 828.4,488.6 828.6,488.6 828.6,485 828.8,485 828.8,481.4 829,481.4 829,477.8 829.2,477.8 829.2,474.2 829.4,474.2 829.4,470.6 829.6,470.6 829.6,467 830,467 830,463.4 830.5,463.4 830.5,459.8 830.9,459.8 830.9,456.2 831.3,456.2 831.3,452.6 831.7,452.6 831.7,449 832.1,449 832.1,445.4 832.5,445.4 832.5,441.8 832.9,441.8 832.9,438.2 833.3,438.2 833.3,434.6 833.7,434.6 833.7,431 834.1,431 834.1,427.4 834.5,427.4 834.5,423.8 834.9,423.8 834.9,420.2 835.4,420.2 835.4,416.6 836,416.6 836,413 836.6,413 836.6,409.4 837.1,409.4 837.1,405.8 837.7,405.8 837.7,402.2 838.3,402.2 838.3,398.6 838.7,398.6 838.7,395 839.2,395 839.2,391.4 839.6,391.4 839.6,387.8 840.1,387.8 840.1,384.2 840.5,384.2 840.5,380.6 841,380.6 841,377 841.5,377 841.5,373.4 842.2,373.4 842.2,369.8 842.8,369.8 842.8,366.2 843.5,366.2 843.5,362.6 844.2,362.6 844.2,359 844.9,359 844.9,355.4 845.5,355.4 845.5,351.8 846.1,351.8 846.1,348.2 846.6,348.2 846.6,344.6 847.1,344.6 847.1,341 847.7,341 847.7,337.4 848.2,337.4 848.2,333.8 848.7,333.8 848.7,330.2 851.1,330.2 851.1,326.6 853,326.6 853,323 854.1,323 854.1,319.4 855.2,319.4 855.2,315.8 856.2,315.8 856.2,312.2 857.3,312.2 857.3,308.6 858.2,308.6 858.2,305 859,305 859,301.4 859.9,301.4 859.9,297.8 860.8,297.8 860.8,294.2 861.7,294.2 861.7,290.6 862.6,290.6 862.6,287 863.5,287 863.5,283.4 864.5,283.4 864.5,279.8 865.4,279.8 865.4,276.2 867,276.2 867,272.6 868.7,272.6 868.7,269 870.5,269 870.5,265.4 872.2,265.4 872.2,261.8 874,261.8 874,258.2 875.6,258.2 875.6,254.6 877.1,254.6 877.1,251 878.7,251 878.7,247.4 880.3,247.4 880.3,243.8 881.8,243.8 881.8,240.2 883.3,240.2 883.3,236.6 884.8,236.6 884.8,233 886.3,233 886.3,229.4 887.8,229.4 887.8,225.8 890.9,225.8 890.9,222.2 894.2,222.2 894.2,218.6 897.5,218.6 897.5,215 900.8,215 900.8,211.4 904.2,211.4 904.2,207.8 906,207.8 906,200.6 906.1,200.6 906.1,197 906.5,197 906.5,193.4 909.4,193.4 909.4,189.8 913,189.8 913,186.2 915.4,186.2 915.4,182.6 917.2,182.6 917.2,179 919,179 919,175.4 921.3,175.4 921.3,171.8 923.7,171.8 923.7,168.2 928.7,168.2 928.7,164.6 933.2,164.6 933.2,161 937.7,161 937.7,157.4 949.3,157.4 949.3,153.8 956.5,153.8 956.5,150.2 963.7,150.2 963.7,146.6 967.9,146.6 967.9,143 970.3,143 970.3,139.4 975.3,139.4 975.3,135.8 982.1,135.8 982.1,132.2 983.9,132.2 983.9,128.6 985.7,128.6 985.7,125 993.4,125 993.4,121.4 1001.9,121.4 1001.9,117.8 1016.3,117.8 1016.3,114.2 1025.7,114.2 1025.7,110.6 1032,110.6 1032,107 1037.5,107 1037.5,103.4 1042.3,103.4 1042.3,99.8 1050.3,99.8 1050.3,96.2 1067.6,96.2 1067.6,92.6 1076.7,92.6 1076.7,89 1091.9,89 1091.9,85.4 1131.6,85.4 1131.6,81.8 1148.6,81.8 1148.6,78.2 1156.9,78.2 1156.9,74.6 1225.3,74.6 1225.3,71 1228.9,71 1228.9,67.4 1237.8,67.4 1237.8,63.8 1254.6,63.8 1254.6,60.2 1272.5,60.2 1272.5,56.6 1273.6,56.6 1273.6,53 1278.3,53 1278.3,49.4 1296.7,49.4 1296.7,45.8 1331.4,45.8 1331.4,42.2 1345.8,42.2 1345.8,38.6 1364,38.6 1364,35 1366.6,35 1366.6,31.4 1407,31.4 1407,27.8 1418.3,27.8 1418.3,24.2 1423.9,24.2 1423.9,24.1" stroke="#008000" stroke-width="3.0"/>
<polyline points="822.9,636.2 822.9,632.6 823,632.6 823,629 823.1,629 823.1,621.8 823.2,621.8 823.2,618.2 823.3,618.2 823.3,614.6 823.4,614.6 823.4,607.4 823.5,607.4 823.5,603.8 823.6,603.8 823.6,596.6 823.7,596.6 823.7,593 823.8,593 823.8,589.4 823.9,589.4 823.9,585.8 824,585.8 824,582.2 824.1,582.2 824.1,578.6 824.2,578.6 824.2,575 824.3,575 824.3,571.4 824.4,571.4 824.4,567.8 824.5,567.8 824.5,564.2 824.6,564.2 824.6,560.6 824.7,560.6 824.7,557 824.8,557 824.8,553.4 824.9,553.4 824.9,549.8 825,549.8 825,546.2 825.1,546.2 825.1,542.6 825.2,542.6 825.2,539 825.3,539 825.3,535.4 825.4,535.4 825.4,531.8 825.5,531.8 825.5,528.2 825.6,528.2 825.6,524.6 825.8,524.6 825.8,521 826,521 826,517.4 826.1,517.4 826.1,513.8 826.2,513.8 826.2,510.2 826.4,510.2 826.4,506.6 826.5,506.6 826.5,503 826.7,503 826.7,499.4 826.9,499.4 826.9,495.8 827,495.8 827,492.2 827.1,492.2 827.1,488.6 827.3,488.6 827.3,485 827.5,485 827.5,481.4 827.6,481.4 827.6,477.8 827.8,477.8 827.8,474.2 827.9,474.2 827.9,470.6 828.1,470.6 828.1,467 828.2,467 828.2,463.4 828.4,463.4 828.4,459.8 828.6,459.8 828.6,456.2 828.7,456.2 828.7,452.6 828.9,452.6 828.9,449 829.1,449 829.1,445.4 829.2,445.4 829.2,441.8 829.4,441.8 829.4,438.2 829.5,438.2 829.5,434.6 829.7,434.6 829.7,431 829.9,431 829.9,427.4 830,427.4 830,423.8 830.2,423.8 830.2,420.2 830.4,420.2 830.4,416.6 830.5,416.6 830.5,413 830.8,413 830.8,409.4 831.3,409.4 831.3,405.8 831.7,405.8 831.7,402.2 832.2,402.2 832.2,398.6 832.6,398.6 832.6,395 833.1,395 833.1,391.4 833.5,391.4 833.5,387.8 834,387.8 834,384.2 834.6,384.2 834.6,380.6 835.1,380.6 835.1,377 835.7,377 835.7,373.4 836.2,373.4 836.2,369.8 836.7,369.8 836.7,366.2 837.3,366.2 837.3,362.6 837.8,362.6 837.8,359 838.4,359 838.4,355.4 839.1,355.4 839.1,351.8 839.7,351.8 839.7,348.2 840.4,348.2 840.4,344.6 841.1,344.6 841.1,341 841.8,341 841.8,337.4 842.4,337.4 842.4,333.8 843.1,333.8 843.1,330.2 843.8,330.2 843.8,326.6 844.5,326.6 844.5,323 845.2,323 845.2,319.4 845.9,319.4 845.9,315.8 846.6,315.8 846.6,312.2 847.3,312.2 847.3,308.6 848,308.6 848,305 848.8,305 848.8,301.4 849.5,301.4 849.5,297.8 850.2,297.8 850.2,294.2 851,294.2 851,290.6 851.9,290.6 851.9,287 852.8,287 852.8,283.4 853.7,283.4 853.7,279.8 854.6,279.8 854.6,276.2 855.5,276.2 855.5,272.6 856.4,272.6 856.4,269 857.3,269 857.3,265.4 858.1,265.4 858.1,261.8 859,261.8 859,258.2 860.8,258.2 860.8,254.6 862.5,254.6 862.5,251 864.3,251 864.3,247.4 866,247.4 866,243.8 867.6,243.8 867.6,240.2 868.7,240.2 868.7,236.6 869.9,236.6 869.9,233 871,233 871,229.4 872.1,229.4 872.1,225.8 874,225.8 874,222.2 876.1,222.2 876.1,218.6 878.1,218.6 878.1,215 880.2,215 880.2,211.4 882.3,211.4 882.3,207.8 884.3,207.8 884.3,204.2 886.4,204.2 886.4,200.6 892.1,200.6 892.1,197 894.5,197 894.5,193.4 896.9,193.4 896.9,189.8 899.6,189.8 899.6,186.2 902.3,186.2 902.3,182.6 905.3,182.6 905.3,179 908.9,179 908.9,175.4 914.1,175.4 914.1,171.8 917.9,171.8 917.9,168.2 920.3,168.2 920.3,164.6 922.4,164.6 922.4,161 925,161 925,157.4 933,157.4 933,153.8 936.6,153.8 936.6,150.2 942.3,150.2 942.3,146.6 944.7,146.6 944.7,143 947.2,143 947.2,139.4 950.1,139.4 950.1,135.8 961.8,135.8 961.8,132.2 964.2,132.2 964.2,128.6 966.6,128.6 966.6,125 969,125 969,121.4 971.5,121.4 971.5,117.8 976.9,117.8 976.9,114.2 987.5,114.2 987.5,110.6 993.3,110.6 993.3,107 1000.6,107 1000.6,103.4 1009.7,103.4 1009.7,99.8 1019.3,99.8 1019.3,96.2 1025.6,96.2 1025.6,92.6 1039.4,92.6 1039.4,89 1060.7,89 1060.7,85.4 1067,85.4 1067,81.8 1076.3,81.8 1076.3,78.2 1089.5,78.2 1089.5,74.6 1097.2,74.6 1097.2,71 1106.2,71 1106.2,67.4 1116.8,67.4 1116.8,63.8 1119.9,63.8 1119.9,60.2 1133.9,60.2 1133.9,56.6 1144.9,56.6 1144.9,53 1157.6,53 1157.6,49.4 1179.7,49.4 1179.7,45.8 1200.4,45.8 1200.4,42.2 1216.3,42.2 1216.3,38.6 1225.3,38.6 1225.3,35 1229.3,35 1229.3,31.4 1320.4,31.4 1320.4,27.8 1408.7,27.8 1408.7,24.2 1423.9,24.2 1423.9,24.1" stroke="#0000ff" stroke-width="3.0"/>
<polyline points="822.9,636.2 822.9,632.6 823,632.6 823,625.4 823.1,625.4 823.1,618.2 823.2,618.2 823.2,611 823.3,611 823.3,603.8 823.4,603.8 823.4,596.6 823.5,596.6 823.5,593 823.6,593 823.6,589.4 823.7,589.4 823.7,585.8 823.8,585.8 823.8,582.2 823.9,582.2 823.9,578.6 824,578.6 824,575 824.1,575 824.1,571.4 824.2,571.4 824.2,567.8 824.3,567.8 824.3,564.2 824.4,564.2 824.4,560.6 824.5,560.6 824.5,557 824.6,557 824.6,549.8 824.7,549.8 824.7,546.2 824.8,546.2 824.8,542.6 824.9,542.6 824.9,539 825,539 825,535.4 825.1,535.4 825.1,531.8 825.2,531.8 825.2,528.2 825.3,528.2 825.3,524.6 825.5,524.6 825.5,521 825.6,521 825.6,517.4 825.7,517.4 825.7,513.8 825.8,513.8 825.8,510.2 826,510.2 826,506.6 826.1,506.6 826.1,503 826.2,503 826.2,499.4 826.3,499.4 826.3,495.8 826.5,495.8 826.5,492.2 826.6,492.2 826.6,488.6 826.7,488.6 826.7,485 826.8,485 826.8,481.4 827,481.4 827,477.8 827.1,477.8 827.1,474.2 827.2,474.2 827.2,470.6 827.4,470.6 827.4,467 827.7,467 827.7,463.4 827.9,463.4 827.9,459.8 828.2,459.8 828.2,456.2 828.5,456.2 828.5,452.6 828.7,452.6 828.7,449 829,449 829,445.4 829.3,445.4 829.3,441.8 829.5,441.8 829.5,438.2 829.8,438.2 829.8,434.6 830.1,434.6 830.1,431 830.3,431 830.3,427.4 830.6,427.4 830.6,423.8 830.9,423.8 830.9,420.2 831.1,420.2 831.1,416.6 831.4,416.6 831.4,413 831.7,413 831.7,409.4 832.1,409.4 832.1,405.8 832.4,405.8 832.4,402.2 832.8,402.2 832.8,398.6 833.1,398.6 833.1,395 833.5,395 833.5,391.4 833.9,391.4 833.9,387.8 834.2,387.8 834.2,384.2 834.6,384.2 834.6,380.6 834.9,380.6 834.9,377 835.4,377 835.4,373.4 836.1,373.4 836.1,369.8 836.8,369.8 836.8,366.2 837.4,366.2 837.4,362.6 838.1,362.6 838.1,359 838.8,359 838.8,355.4 839.5,355.4 839.5,351.8 840,351.8 840,348.2 840.5,348.2 840.5,344.6 840.9,344.6 840.9,341 841.4,341 841.4,337.4 841.8,337.4 841.8,333.8 842.3,333.8 842.3,330.2 842.7,330.2 842.7,326.6 843.3,326.6 843.3,323 844,323 844,319.4 844.6,319.4 844.6,315.8 845.3,315.8 845.3,312.2 845.9,312.2 845.9,308.6 846.7,308.6 846.7,305 847.4,305 847.4,301.4 848.2,301.4 848.2,297.8 849,297.8 849,294.2 849.7,294.2 849.7,290.6 850.3,290.6 850.3,287 851,287 851,283.4 851.6,283.4 851.6,279.8 852.2,279.8 852.2,276.2 852.9,276.2 852.9,272.6 853.6,272.6 853.6,269 854.3,269 854.3,265.4 855,265.4 855,261.8 855.7,261.8 855.7,258.2 857.3,258.2 857.3,254.6 858.9,254.6 858.9,251 860.5,251 860.5,247.4 862.1,247.4 862.1,243.8 863.4,243.8 863.4,240.2 864,240.2 864,236.6 864.6,236.6 864.6,233 865.3,233 865.3,229.4 865.9,229.4 865.9,225.8 866.6,225.8 866.6,222.2 867.4,222.2 867.4,218.6 868.1,218.6 868.1,215 868.9,215 868.9,211.4 869.6,211.4 869.6,207.8 870.4,207.8 870.4,204.2 871.2,204.2 871.2,200.6 872,200.6 872,197 873.4,197 873.4,193.4 874.9,193.4 874.9,189.8 876.3,189.8 876.3,186.2 877.7,186.2 877.7,182.6 879.1,182.6 879.1,179 880.4,179 880.4,175.4 881.9,175.4 881.9,171.8 883.5,171.8 883.5,168.2 884.7,168.2 884.7,164.6 885.7,164.6 885.7,161 887,161 887,157.4 889.7,157.4 889.7,153.8 892.4,153.8 892.4,150.2 895,150.2 895,146.6 897.4,146.6 897.4,143 899.8,143 899.8,139.4 902.2,139.4 902.2,135.8 904.4,135.8 904.4,132.2 905.7,132.2 905.7,128.6 907.1,128.6 907.1,125 909.7,125 909.7,121.4 914.2,121.4 914.2,117.8 919.6,117.8 919.6,114.2 923.4,114.2 923.4,110.6 926.3,110.6 926.3,107 929.2,107 929.2,103.4 932.8,103.4 932.8,99.8 940,99.8 940,96.2 947.2,96.2 947.2,92.6 957.4,92.6 957.4,89 973,89 973,85.4 977.3,85.4 977.3,81.8 989.8,81.8 989.8,78.2 999.7,78.2 999.7,74.6 1001.2,74.6 1001.2,71 1032.8,71 1032.8,67.4 1034.2,67.4 1034.2,63.8 1035.7,63.8 1035.7,60.2 1042.3,60.2 1042.3,56.6 1073.7,56.6 1073.7,53 1076.9,53 1076.9,49.4 1094.8,49.4 1094.8,45.8 1123.9,45.8 1123.9,42.2 1134,42.2 1134,38.6 1170.9,38.6 1170.9,35 1250.8,35 1250.8,31.4 1268.3,31.4 1268.3,27.8 1397.1,27.8 1397.1,24.2 1423.9,24.2 1423.9,24.1" stroke="#ffa500" stroke-width="3.0"/>
<polyline points="822.9,636.2 822.9,632.6 823,632.6 823,625.4 823.1,625.4 823.1,618.2 823.2,618.2 823.2,611 823.3,611 823.3,603.8 823.4,603.8 823.4,596.6 823.5,596.6 823.5,593 823.6,593 823.6,589.4 823.7,589.4 823.7,585.8 823.8,585.8 823.8,578.6 823.9,578.6 823.9,575 824,575 824,571.4 824.1,571.4 824.1,567.8 824.2,567.8 824.2,564.2 824.3,564.2 824.3,557 824.4,557 824.4,553.4 824.5,553.4 824.5,549.8 824.6,549.8 824.6,546.2 824.7,546.2 824.7,542.6 824.8,542.6 824.8,535.4 824.9,535.4 824.9,531.8 825,531.8 825,528.2 825.1,528.2 825.1,524.6 825.2,524.6 825.2,521 825.4,521 825.4,517.4 825.5,517.4 825.5,513.8 825.6,513.8 825.6,510.2 825.7,510.2 825.7,506.6 825.8,506.6 825.8,503 826,503 826,499.4 826.1,499.4 826.1,495.8 826.2,495.8 826.2,492.2 826.3,492.2 826.3,488.6 826.4,488.6 826.4,485 826.6,485 826.6,481.4 826.7,481.4 826.7,477.8 826.8,477.8 826.8,474.2 826.9,474.2 826.9,470.6 827.1,470.6 827.1,467 827.3,467 827.3,463.4 827.5,463.4 827.5,459.8 827.8,459.8 827.8,456.2 828,456.2 828,452.6 828.2,452.6 828.2,449 828.4,449 828.4,445.4 828.7,445.4 828.7,441.8 828.9,441.8 828.9,438.2 829.1,438.2 829.1,434.6 829.4,434.6 829.4,431 829.6,431 829.6,427.4 829.8,427.4 829.8,423.8 830.1,423.8 830.1,420.2 830.3,420.2 830.3,416.6 830.5,416.6 830.5,413 830.8,413 830.8,409.4 831.2,409.4 831.2,405.8 831.5,405.8 831.5,402.2 831.9,402.2 831.9,398.6 832.2,398.6 832.2,395 832.6,395 832.6,391.4 833,391.4 833,387.8 833.3,387.8 833.3,384.2 833.7,384.2 833.7,380.6 834.2,380.6 834.2,377 834.7,377 834.7,373.4 835.2,373.4 835.2,369.8 835.7,369.8 835.7,366.2 836.2,366.2 836.2,362.6 836.8,362.6 836.8,359 837.4,359 837.4,355.4 838,355.4 838,351.8 838.6,351.8 838.6,348.2 839.2,348.2 839.2,344.6 839.8,344.6 839.8,341 840.4,341 840.4,337.4 841,337.4 841,333.8 841.4,333.8 841.4,330.2 841.5,330.2 841.5,326.6 841.9,326.6 841.9,323 842.5,323 842.5,319.4 843,319.4 843,315.8 843.5,315.8 843.5,312.2 844,312.2 844,308.6 844.7,308.6 844.7,305 845.4,305 845.4,301.4 846.1,301.4 846.1,297.8 846.8,297.8 846.8,294.2 847.5,294.2 847.5,290.6 848.1,290.6 848.1,287 848.6,287 848.6,283.4 849.2,283.4 849.2,279.8 849.7,279.8 849.7,276.2 850.4,276.2 850.4,272.6 851.1,272.6 851.1,269 851.8,269 851.8,265.4 852.5,265.4 852.5,261.8 853.2,261.8 853.2,258.2 854.8,258.2 854.8,254.6 856.4,254.6 856.4,251 858,251 858,247.4 859.6,247.4 859.6,243.8 860.9,243.8 860.9,240.2 861.6,240.2 861.6,236.6 862.4,236.6 862.4,233 863.1,233 863.1,229.4 863.9,229.4 863.9,225.8 864.4,225.8 864.4,222.2 864.8,222.2 864.8,218.6 865.3,218.6 865.3,215 865.7,215 865.7,211.4 866.2,211.4 866.2,207.8 866.6,207.8 866.6,204.2 868.1,204.2 868.1,200.6 870.5,200.6 870.5,197 872.6,197 872.6,193.4 874.4,193.4 874.4,189.8 876.2,189.8 876.2,186.2 878,186.2 878,182.6 879.7,182.6 879.7,179 881,179 881,175.4 882.4,175.4 882.4,171.8 883.4,171.8 883.4,168.2 884.1,168.2 884.1,164.6 884.8,164.6 884.8,161 885.5,161 885.5,157.4 886.1,157.4 886.1,153.8 886.7,153.8 886.7,150.2 887.9,150.2 887.9,146.6 889.1,146.6 889.1,143 890.9,143 890.9,139.4 892.4,139.4 892.4,135.8 893.6,135.8 893.6,132.2 895.9,132.2 895.9,128.6 899.6,128.6 899.6,125 904.8,125 904.8,121.4 914.3,121.4 914.3,117.8 921.5,117.8 921.5,114.2 926.4,114.2 926.4,110.6 930,110.6 930,107 937.6,107 937.6,103.4 942.1,103.4 942.1,99.8 946.6,99.8 946.6,96.2 951.8,96.2 951.8,92.6 954.6,92.6 954.6,89 960.5,89 960.5,85.4 967.2,85.4 967.2,81.8 970.4,81.8 970.4,78.2 975.8,78.2 975.8,74.6 999.7,74.6 999.7,71 1009.4,71 1009.4,67.4 1016.3,67.4 1016.3,63.8 1037.4,63.8 1037.4,60.2 1045.1,60.2 1045.1,56.6 1073.1,56.6 1073.1,53 1090.9,53 1090.9,49.4 1096.6,49.4 1096.6,45.8 1121.8,45.8 1121.8,42.2 1127.5,42.2 1127.5,38.6 1132.3,38.6 1132.3,35 1165.5,35 1165.5,31.4 1192.1,31.4 1192.1,27.8 1284.5,27.8 1284.5,24.2 1423.9,24.2 1423.9,24.1" stroke="#808080" stroke-width="3.0"/>
<polyline points="822.9,636.2 823,636.2 823,632.6 823.1,632.6 823.1,629 823.2,629 823.2,625.4 823.4,625.4 823.4,621.8 823.5,621.8 823.5,618.2 823.7,618.2 823.7,614.6 823.8,614.6 823.8,611 823.9,611 823.9,607.4 824,607.4 824,603.8 824.1,603.8 824.1,600.2 824.2,600.2 824.2,593 824.3,593 824.3,589.4 824.4,589.4 824.4,585.8 824.5,585.8 824.5,582.2 824.6,582.2 824.6,575 824.7,575 824.7,571.4 824.8,571.4 824.8,567.8 824.9,567.8 824.9,564.2 825,564.2 825,560.6 825.2,560.6 825.2,557 825.3,557 825.3,553.4 825.5,553.4 825.5,549.8 825.7,549.8 825.7,546.2 825.8,546.2 825.8,542.6 826,542.6 826,539 826.1,539 826.1,535.4 826.3,535.4 826.3,531.8 826.4,531.8 826.4,528.2 826.6,528.2 826.6,524.6 826.8,524.6 826.8,521 827.1,521 827.1,517.4 827.4,517.4 827.4,513.8 827.7,513.8 827.7,510.2 827.9,510.2 827.9,506.6 828.2,506.6 828.2,503 828.5,503 828.5,499.4 828.8,499.4 828.8,495.8 829.1,495.8 829.1,492.2 829.3,492.2 829.3,488.6 829.6,488.6 829.6,485 829.9,485 829.9,481.4 830.2,481.4 830.2,477.8 830.5,477.8 830.5,474.2 830.8,474.2 830.8,470.6 831.2,470.6 831.2,467 831.5,467 831.5,463.4 831.8,463.4 831.8,459.8 832.2,459.8 832.2,456.2 832.5,456.2 832.5,452.6 832.8,452.6 832.8,449 833.1,449 833.1,445.4 833.6,445.4 833.6,441.8 834.2,441.8 834.2,438.2 834.7,438.2 834.7,434.6 835.2,434.6 835.2,431 835.8,431 835.8,427.4 836.3,427.4 836.3,423.8 836.9,423.8 836.9,420.2 837.4,420.2 837.4,416.6 837.9,416.6 837.9,413 838.5,413 838.5,409.4 839.1,409.4 839.1,405.8 839.7,405.8 839.7,402.2 840.3,402.2 840.3,398.6 840.9,398.6 840.9,395 841.5,395 841.5,391.4 842,391.4 842,387.8 842.5,387.8 842.5,384.2 843,384.2 843,380.6 843.5,380.6 843.5,377 844,377 844,373.4 844.8,373.4 844.8,369.8 845.9,369.8 845.9,366.2 847,366.2 847,362.6 848.1,362.6 848.1,359 849.5,359 849.5,355.4 852.2,355.4 852.2,351.8 854,351.8 854,348.2 855.1,348.2 855.1,344.6 856.2,344.6 856.2,341 857.3,341 857.3,337.4 858.3,337.4 858.3,333.8 859.3,333.8 859.3,330.2 860.3,330.2 860.3,326.6 861.6,326.6 861.6,323 863,323 863,319.4 864.3,319.4 864.3,315.8 865.7,315.8 865.7,312.2 867.1,312.2 867.1,308.6 868.7,308.6 868.7,305 870.3,305 870.3,301.4 871.9,301.4 871.9,297.8 873.5,297.8 873.5,294.2 875.2,294.2 875.2,290.6 877.8,290.6 877.8,287 880.5,287 880.5,283.4 883.1,283.4 883.1,279.8 885.7,279.8 885.7,276.2 888.6,276.2 888.6,272.6 891.6,272.6 891.6,269 894.6,269 894.6,265.4 897.6,265.4 897.6,261.8 900.7,261.8 900.7,258.2 903.7,258.2 903.7,254.6 906.9,254.6 906.9,251 910.3,251 910.3,247.4 913.6,247.4 913.6,243.8 916.5,243.8 916.5,240.2 919.3,240.2 919.3,236.6 922.2,236.6 922.2,233 925.1,233 925.1,229.4 927.9,229.4 927.9,225.8 930.8,225.8 930.8,222.2 933.7,222.2 933.7,218.6 936.5,218.6 936.5,215 939.4,215 939.4,211.4 942.3,211.4 942.3,207.8 945.1,207.8 945.1,204.2 948.4,204.2 948.4,200.6 952,200.6 952,197 955.6,197 955.6,193.4 959.7,193.4 959.7,189.8 968.2,189.8 968.2,186.2 973,186.2 973,182.6 977.6,182.6 977.6,179 981.7,179 981.7,175.4 985.8,175.4 985.8,171.8 990,171.8 990,168.2 994.1,168.2 994.1,164.6 998.2,164.6 998.2,161 1002.1,161 1002.1,157.4 1005.4,157.4 1005.4,153.8 1015.3,153.8 1015.3,150.2 1018.7,150.2 1018.7,146.6 1021.8,146.6 1021.8,143 1035,143 1035,139.4 1043.2,139.4 1043.2,135.8 1053.5,135.8 1053.5,132.2 1063.2,132.2 1063.2,128.6 1074.6,128.6 1074.6,125 1086.9,125 1086.9,121.4 1092.9,121.4 1092.9,117.8 1108.1,117.8 1108.1,114.2 1113.8,114.2 1113.8,110.6 1119.2,110.6 1119.2,107 1132.1,107 1132.1,103.4 1145,103.4 1145,99.8 1151.6,99.8 1151.6,96.2 1154.2,96.2 1154.2,92.6 1156.4,92.6 1156.4,89 1159.4,89 1159.4,85.4 1169.1,85.4 1169.1,81.8 1185.1,81.8 1185.1,78.2 1221,78.2 1221,74.6 1231.9,74.6 1231.9,71 1262.2,71 1262.2,67.4 1271.3,67.4 1271.3,63.8 1302.5,63.8 1302.5,60.2 1323.1,60.2 1323.1,56.6 1323.7,56.6 1323.7,53 1324.8,53 1324.8,49.4 1328.4,49.4 1328.4,45.8 1361.7,45.8 1361.7,42.2 1364.1,42.2 1364.1,38.6 1374.8,38.6 1374.8,35 1389.8,35 1389.8,31.4 1411,31.4 1411,27.8 1419.8,27.8 1419.8,24.2 1423.9,24.2 1423.9,24.1" stroke="#800080" stroke-width="3.0"/>
<polyline points="822.9,636.2 822.9,632.6 823,632.6 823,629 823.1,629 823.1,625.4 823.2,625.4 823.2,621.8 823.3,621.8 823.3,618.2 823.4,618.2 823.4,614.6 823.5,614.6 823.5,611 823.6,611 823.6,607.4 823.7,607.4 823.7,603.8 823.8,603.8 823.8,600.2 823.9,600.2 823.9,596.6 824,596.6 824,593 824.1,593 824.1,589.4 824.2,589.4 824.2,585.8 824.3,585.8 824.3,582.2 824.4,582.2 824.4,578.6 824.5,578.6 824.5,575 824.6,575 824.6,571.4 824.8,571.4 824.8,567.8 824.9,567.8 824.9,564.2 825,564.2 825,560.6 825.1,560.6 825.1,557 825.2,557 825.2,553.4 825.3,553.4 825.3,549.8 825.4,549.8 825.4,546.2 825.5,546.2 825.5,542.6 825.7,542.6 825.7,539 825.8,539 825.8,535.4 825.9,535.4 825.9,531.8 826,531.8 826,528.2 826.2,528.2 826.2,524.6 826.4,524.6 826.4,521 826.5,521 826.5,517.4 826.7,517.4 826.7,513.8 826.9,513.8 826.9,510.2 827.1,510.2 827.1,506.6 827.3,506.6 827.3,503 827.4,503 827.4,499.4 827.6,499.4 827.6,495.8 827.8,495.8 827.8,492.2 828,492.2 828,488.6 828.2,488.6 828.2,485 828.3,485 828.3,481.4 828.5,481.4 828.5,477.8 828.7,477.8 828.7,474.2 828.9,474.2 828.9,470.6 829.1,470.6 829.1,467 829.3,467 829.3,463.4 829.5,463.4 829.5,459.8 829.7,459.8 829.7,456.2 829.9,456.2 829.9,452.6 830.1,452.6 830.1,449 830.3,449 830.3,445.4 830.5,445.4 830.5,441.8 830.7,441.8 830.7,438.2 830.9,438.2 830.9,434.6 831.1,434.6 831.1,431 831.3,431 831.3,427.4 831.4,427.4 831.4,423.8 831.6,423.8 831.6,420.2 831.8,420.2 831.8,416.6 832,416.6 832,413 832.4,413 832.4,409.4 832.8,409.4 832.8,405.8 833.3,405.8 833.3,402.2 833.7,402.2 833.7,398.6 834.2,398.6 834.2,395 834.6,395 834.6,391.4 835.1,391.4 835.1,387.8 835.7,387.8 835.7,384.2 836.3,384.2 836.3,380.6 837,380.6 837,377 837.7,377 837.7,373.4 838.4,373.4 838.4,369.8 839,369.8 839,366.2 839.7,366.2 839.7,362.6 840.4,362.6 840.4,359 841.1,359 841.1,355.4 841.7,355.4 841.7,351.8 842.4,351.8 842.4,348.2 843.1,348.2 843.1,344.6 843.8,344.6 843.8,341 844.5,341 844.5,337.4 845.9,337.4 845.9,333.8 847.2,333.8 847.2,330.2 848.6,330.2 848.6,326.6 849.6,326.6 849.6,323 850.5,323 850.5,319.4 851.4,319.4 851.4,315.8 852.2,315.8 852.2,312.2 853.1,312.2 853.1,308.6 853.8,308.6 853.8,305 854.6,305 854.6,301.4 855.3,301.4 855.3,297.8 856,297.8 856,294.2 856.8,294.2 856.8,290.6 857.9,290.6 857.9,287 859,287 859,283.4 860.1,283.4 860.1,279.8 861.2,279.8 861.2,276.2 862.8,276.2 862.8,272.6 864.5,272.6 864.5,269 866.3,269 866.3,265.4 868,265.4 868,261.8 869.8,261.8 869.8,258.2 871.2,258.2 871.2,254.6 872.6,254.6 872.6,251 874.1,251 874.1,247.4 875.5,247.4 875.5,243.8 877.1,243.8 877.1,240.2 879.1,240.2 879.1,236.6 881.2,236.6 881.2,233 883.2,233 883.2,229.4 885.3,229.4 885.3,225.8 887.9,225.8 887.9,222.2 890.6,222.2 890.6,218.6 893.3,218.6 893.3,215 896,215 896,211.4 898.7,211.4 898.7,207.8 900.7,207.8 900.7,204.2 902.5,204.2 902.5,200.6 904.7,200.6 904.7,197 908.3,197 908.3,193.4 912,193.4 912,189.8 917.4,189.8 917.4,186.2 922.8,186.2 922.8,182.6 927.7,182.6 927.7,179 931.3,179 931.3,175.4 934.9,175.4 934.9,171.8 938.5,171.8 938.5,168.2 942.1,168.2 942.1,164.6 945.7,164.6 945.7,161 949.3,161 949.3,157.4 953.3,157.4 953.3,153.8 959.1,153.8 959.1,150.2 965.5,150.2 965.5,146.6 971,146.6 971,143 985.4,143 985.4,139.4 996.3,139.4 996.3,135.8 1007.4,135.8 1007.4,132.2 1011,132.2 1011,128.6 1014.6,128.6 1014.6,125 1022.3,125 1022.3,121.4 1030.7,121.4 1030.7,117.8 1046.3,117.8 1046.3,114.2 1048.1,114.2 1048.1,110.6 1051.2,110.6 1051.2,107 1064.6,107 1064.6,103.4 1083.4,103.4 1083.4,99.8 1085,99.8 1085,96.2 1087.2,96.2 1087.2,92.6 1102.9,92.6 1102.9,89 1112.9,89 1112.9,85.4 1120.1,85.4 1120.1,81.8 1131.9,81.8 1131.9,78.2 1155.6,78.2 1155.6,74.6 1172.4,74.6 1172.4,71 1177.5,71 1177.5,67.4 1188.3,67.4 1188.3,63.8 1211.6,63.8 1211.6,60.2 1246.2,60.2 1246.2,56.6 1254,56.6 1254,53 1259.3,53 1259.3,49.4 1295.3,49.4 1295.3,45.8 1317.9,45.8 1317.9,42.2 1336.2,42.2 1336.2,38.6 1341,38.6 1341,35 1373.2,35 1373.2,31.4 1382.5,31.4 1382.5,27.8 1405,27.8 1405,24.2 1423.9,24.2 1423.9,24.1" stroke="#808000" stroke-width="3.0"/>
<line x1="822.9" y1="636.2" x2="1423.9" y2="24.1" stroke="#000080" stroke-width="2.5" stroke-dasharray="8.2 8.5" stroke-dashoffset="0.3"/>
<circle cx="903.40" cy="188.60" r="6.85" fill="#ff0000" stroke="#000" stroke-width="1.6"/>
<circle cx="978.10" cy="101.70" r="6.85" fill="#00ffff" stroke="#000" stroke-width="1.6"/>
<circle cx="906.30" cy="207.50" r="6.85" fill="#008000" stroke="#000" stroke-width="1.6"/>
<circle cx="896.20" cy="190.60" r="6.85" fill="#0000ff" stroke="#000" stroke-width="1.6"/>
<circle cx="883.70" cy="169.50" r="6.85" fill="#ffa500" stroke="#000" stroke-width="1.6"/>
<circle cx="929.50" cy="112.70" r="6.85" fill="#808080" stroke="#000" stroke-width="1.6"/>
<circle cx="913.60" cy="245.60" r="6.85" fill="#800080" stroke="#000" stroke-width="1.6"/>
<circle cx="962.70" cy="150.30" r="6.85" fill="#808000" stroke="#000" stroke-width="1.6"/>
</g>
<line x1="812.30" y1="636.20" x2="822.90" y2="636.20" stroke="#000" stroke-width="1.3"/>
<line x1="822.90" y1="636.20" x2="822.90" y2="646.80" stroke="#000" stroke-width="1.3"/>
<line x1="812.30" y1="513.78" x2="822.90" y2="513.78" stroke="#000" stroke-width="1.3"/>
<line x1="943.10" y1="636.20" x2="943.10" y2="646.80" stroke="#000" stroke-width="1.3"/>
<line x1="812.30" y1="391.36" x2="822.90" y2="391.36" stroke="#000" stroke-width="1.3"/>
<line x1="1063.30" y1="636.20" x2="1063.30" y2="646.80" stroke="#000" stroke-width="1.3"/>
<line x1="812.30" y1="268.94" x2="822.90" y2="268.94" stroke="#000" stroke-width="1.3"/>
<line x1="1183.50" y1="636.20" x2="1183.50" y2="646.80" stroke="#000" stroke-width="1.3"/>
<line x1="812.30" y1="146.52" x2="822.90" y2="146.52" stroke="#000" stroke-width="1.3"/>
<line x1="1303.70" y1="636.20" x2="1303.70" y2="646.80" stroke="#000" stroke-width="1.3"/>
<line x1="812.30" y1="24.10" x2="822.90" y2="24.10" stroke="#000" stroke-width="1.3"/>
<line x1="1423.90" y1="636.20" x2="1423.90" y2="646.80" stroke="#000" stroke-width="1.3"/>
<rect x="822.90" y="24.10" width="601.00" height="612.10" fill="none" stroke="#000" stroke-width="2.0"/>
<text x="784.11" y="644.50" font-size="23.3" textLength="15.44" lengthAdjust="spacingAndGlyphs">0</text>
<text x="814.92" y="673.30" font-size="23.3" textLength="15.92" lengthAdjust="spacingAndGlyphs">0</text>
<text x="765.29" y="522.08" font-size="23.3" textLength="35.95" lengthAdjust="spacingAndGlyphs">0.2</text>
<text x="923.97" y="673.30" font-size="23.3" textLength="36.49" lengthAdjust="spacingAndGlyphs">0.2</text>
<text x="765.33" y="399.66" font-size="23.3" textLength="34.79" lengthAdjust="spacingAndGlyphs">0.4</text>
<text x="1044.21" y="673.30" font-size="23.3" textLength="35.32" lengthAdjust="spacingAndGlyphs">0.4</text>
<text x="765.29" y="277.24" font-size="23.3" textLength="35.95" lengthAdjust="spacingAndGlyphs">0.6</text>
<text x="1164.37" y="673.30" font-size="23.3" textLength="36.49" lengthAdjust="spacingAndGlyphs">0.6</text>
<text x="765.29" y="154.82" font-size="23.3" textLength="35.95" lengthAdjust="spacingAndGlyphs">0.8</text>
<text x="1284.57" y="673.30" font-size="23.3" textLength="36.49" lengthAdjust="spacingAndGlyphs">0.8</text>
<text x="767.63" y="32.40" font-size="23.3" textLength="31.96" lengthAdjust="spacingAndGlyphs">1.0</text>
<text x="1404.05" y="673.30" font-size="23.3" textLength="31.53" lengthAdjust="spacingAndGlyphs">1.0</text>
<rect x="886.80" y="378.60" width="527.50" height="248.00" rx="4" ry="4" fill="#fff" fill-opacity="0.88" stroke="#cccccc" stroke-opacity="0.8" stroke-width="1.1"/>
<line x1="892.80" y1="393.00" x2="931.40" y2="393.00" stroke="#ff0000" stroke-width="2.2"/>
<text x="944.35" y="400.80" font-size="21" textLength="237.95" lengthAdjust="spacingAndGlyphs">Baseline: NN @Features</text>
<text x="1282.10" y="400.80" font-size="21" textLength="119.24" lengthAdjust="spacingAndGlyphs">AUC: 0.8791</text>
<line x1="892.80" y1="420.10" x2="931.40" y2="420.10" stroke="#00ffff" stroke-width="2.2"/>
<text x="945.38" y="425.80" font-size="21" textLength="159.74" lengthAdjust="spacingAndGlyphs">GNN @Features</text>
<text x="1282.10" y="425.80" font-size="21" textLength="123.69" lengthAdjust="spacingAndGlyphs">AUC: 0.8975</text>
<line x1="892.80" y1="447.20" x2="931.40" y2="447.20" stroke="#008000" stroke-width="2.2"/>
<text x="944.36" y="452.80" font-size="21" textLength="311.25" lengthAdjust="spacingAndGlyphs">Embeddings: NN @MatSciBERT</text>
<text x="1282.10" y="452.80" font-size="21" textLength="114.87" lengthAdjust="spacingAndGlyphs">AUC: 0.8511</text>
<line x1="892.80" y1="474.30" x2="931.40" y2="474.30" stroke="#0000ff" stroke-width="2.2"/>
<text x="944.42" y="479.90" font-size="21" textLength="281.59" lengthAdjust="spacingAndGlyphs">NN @Features + MatSciBERT</text>
<text x="1282.10" y="479.90" font-size="21" textLength="124.09" lengthAdjust="spacingAndGlyphs">AUC: 0.8832</text>
<line x1="892.80" y1="501.40" x2="931.40" y2="501.40" stroke="#ffa500" stroke-width="2.2"/>
<text x="944.33" y="506.70" font-size="21" textLength="314.19" lengthAdjust="spacingAndGlyphs">Mixture: Baseline &amp; Embeddings</text>
<text x="1282.10" y="506.70" font-size="21" textLength="119.24" lengthAdjust="spacingAndGlyphs">AUC: 0.9123</text>
<line x1="892.80" y1="528.50" x2="931.40" y2="528.50" stroke="#808080" stroke-width="2.2"/>
<text x="944.69" y="534.70" font-size="22.4" font-weight="bold" textLength="291.69" lengthAdjust="spacingAndGlyphs" stroke="#000" stroke-width="0.45">Mixture: GNN &amp; Embeddings</text>
<text x="1281.31" y="534.70" font-size="22.4" font-weight="bold" textLength="129.25" lengthAdjust="spacingAndGlyphs" stroke="#000" stroke-width="0.45">AUC: 0.9163</text>
<line x1="892.80" y1="555.60" x2="931.40" y2="555.60" stroke="#800080" stroke-width="2.2"/>
<text x="944.46" y="562.20" font-size="21" textLength="109.56" lengthAdjust="spacingAndGlyphs">NN @BERT</text>
<text x="1282.10" y="562.20" font-size="21" textLength="114.87" lengthAdjust="spacingAndGlyphs">AUC: 0.8119</text>
<line x1="892.80" y1="582.70" x2="931.40" y2="582.70" stroke="#808000" stroke-width="2.2"/>
<text x="944.39" y="588.50" font-size="21" textLength="227.06" lengthAdjust="spacingAndGlyphs">Fine-tuned MatSciBERT</text>
<text x="1282.10" y="588.50" font-size="21" textLength="124.80" lengthAdjust="spacingAndGlyphs">AUC: 0.8520</text>
<line x1="892.80" y1="609.80" x2="931.40" y2="609.80" stroke="#000080" stroke-width="2.2" stroke-dasharray="7.4 8.2"/>
<text x="944.31" y="618.70" font-size="21" textLength="82.84" lengthAdjust="spacingAndGlyphs">Random</text>
<g clip-path="url(#clipc)" fill="none">
<polyline points="1548.1,636.2 1549,636.2 1549,600.2 1556.2,600.2 1556.2,564.2 1576.8,564.2 1576.8,528.2 1606.5,528.2 1606.5,492.2 1644.7,492.2 1644.7,456.2 1648.2,456.2 1648.2,420.2 1662.4,420.2 1662.4,384.2 1676,384.2 1676,312.1 1760.4,312.1 1760.4,276.1 1777,276.1 1777,240.1 1793.2,240.1 1793.2,204.1 1827.7,204.1 1827.7,168.1 1841.7,168.1 1841.7,132.1 2005.6,132.1 2005.6,96.1 2018.5,96.1 2018.5,60.1 2050.8,60.1 2050.8,24.1 2148,24.1" stroke="#ff0000" stroke-width="3.0"/>
<polyline points="1548.1,636.2 1549.5,636.2 1549.5,564.2 1560.6,564.2 1560.6,528.2 1564.9,528.2 1564.9,492.2 1574.5,492.2 1574.5,384.2 1591.1,384.2 1591.1,348.2 1602.1,348.2 1602.1,312.1 1620.9,312.1 1620.9,276.1 1635.3,276.1 1635.3,240.1 1654.1,240.1 1654.1,204.1 1716.4,204.1 1716.4,168.1 1755.5,168.1 1755.5,96.1 1863.5,96.1 1863.5,60.1 1947.6,60.1 1947.6,24.1 2148,24.1" stroke="#00ffff" stroke-width="3.0"/>
<polyline points="1548.1,636.2 1550.5,636.2 1550.5,456.2 1561.3,456.2 1561.3,420.2 1568.1,420.2 1568.1,384.2 1605.4,384.2 1605.4,348.2 1609.5,348.2 1609.5,312.1 1645.8,312.1 1645.8,276.1 1660.2,276.1 1660.2,240.1 1687.3,240.1 1687.3,204.1 1700.2,204.1 1700.2,132.1 1712.3,132.1 1712.3,96.1 1925.2,96.1 1925.2,60.1 1960.5,60.1 1960.5,24.1 2148,24.1" stroke="#008000" stroke-width="3.0"/>
<polyline points="1548.1,636.2 1548.6,636.2 1548.6,600.2 1553.4,600.2 1553.4,564.2 1565.8,564.2 1565.8,528.2 1601.4,528.2 1601.4,492.2 1613.6,492.2 1613.6,456.2 1632.5,456.2 1632.5,420.2 1637.8,420.2 1637.8,384.2 1655.2,384.2 1655.2,312.1 1732.7,312.1 1732.7,276.1 1747.4,276.1 1747.4,240.1 1754.3,240.1 1754.3,204.1 1771.2,204.1 1771.2,168.1 1965.7,168.1 1965.7,132.1 1986.7,132.1 1986.7,96.1 2018.5,96.1 2018.5,60.1 2023.9,60.1 2023.9,24.1 2148,24.1" stroke="#0000ff" stroke-width="3.0"/>
<polyline points="1548.1,636.2 1548.8,636.2 1548.8,564.2 1550.5,564.2 1550.5,492.2 1557.8,492.2 1557.8,384.2 1635.3,384.2 1635.3,348.2 1638.6,348.2 1638.6,312.1 1668,312.1 1668,276.1 1683.5,276.1 1683.5,240.1 1685.4,240.1 1685.4,204.1 1743.8,204.1 1743.8,168.1 1762.2,168.1 1762.2,132.1 1891,132.1 1891,96.1 1903.7,96.1 1903.7,60.1 2043.3,60.1 2043.3,24.1 2148,24.1" stroke="#ffa500" stroke-width="3.0"/>
<polyline points="1548.1,636.2 1549,636.2 1549,528.2 1551.6,528.2 1551.6,492.2 1553.7,492.2 1553.7,456.2 1555,456.2 1555,420.2 1564.6,420.2 1564.6,384.2 1584.5,384.2 1584.5,348.2 1586.2,348.2 1586.2,312.1 1596,312.1 1596,276.1 1638.1,276.1 1638.1,240.1 1639.5,240.1 1639.5,204.1 1660.2,204.1 1660.2,168.1 1727.2,168.1 1727.2,132.1 1825.6,132.1 1825.6,96.1 1839,96.1 1839,60.1 1992.9,60.1 1992.9,24.1 2148,24.1" stroke="#808080" stroke-width="3.0"/>
<polyline points="1548.1,636.2 1550.2,636.2 1550.2,600.2 1562,600.2 1562,564.2 1564,564.2 1564,528.2 1567.3,528.2 1567.3,492.2 1578.3,492.2 1578.3,456.2 1633,456.2 1633,420.2 1638.3,420.2 1638.3,384.2 1650.5,384.2 1650.5,348.2 1653.3,348.2 1653.3,312.1 1682.4,312.1 1682.4,240.1 1734.9,240.1 1734.9,204.1 1767.6,204.1 1767.6,168.1 1768.9,168.1 1768.9,132.1 1798.6,132.1 1798.6,96.1 1799.9,96.1 1799.9,60.1 1805.3,60.1 1805.3,24.1 2148,24.1" stroke="#800080" stroke-width="3.0"/>
<polyline points="1548.1,636.2 1549.8,636.2 1549.8,528.2 1552.6,528.2 1552.6,492.2 1570.6,492.2 1570.6,456.2 1575.9,456.2 1575.9,420.2 1582.6,420.2 1582.6,384.2 1609,384.2 1609,348.2 1614.6,348.2 1614.6,312.1 1630.3,312.1 1630.3,276.1 1661.6,276.1 1661.6,240.1 1673.5,240.1 1673.5,204.1 1692.1,204.1 1692.1,168.1 1732.6,168.1 1732.6,132.1 1925.2,132.1 1925.2,96.1 1938.2,96.1 1938.2,60.1 2019.6,60.1 2019.6,24.1 2148,24.1" stroke="#808000" stroke-width="3.0"/>
<line x1="1548.1" y1="636.2" x2="2148.0" y2="24.1" stroke="#000080" stroke-width="2.5" stroke-dasharray="8.2 8.5" stroke-dashoffset="0.3"/>
<circle cx="1561.50" cy="420.00" r="6.85" fill="#008000" stroke="#000" stroke-width="1.6"/>
<circle cx="1550.80" cy="600.00" r="6.85" fill="#0000ff" stroke="#000" stroke-width="1.6"/>
<circle cx="1549.40" cy="564.00" r="6.85" fill="#ffa500" stroke="#000" stroke-width="1.6"/>
<circle cx="1554.40" cy="456.00" r="6.85" fill="#808080" stroke="#000" stroke-width="1.6"/>
<circle cx="1564.20" cy="528.00" r="6.85" fill="#800080" stroke="#000" stroke-width="1.6"/>
<circle cx="1592.40" cy="384.20" r="6.85" fill="#808000" stroke="#000" stroke-width="1.6"/>
</g>
<line x1="1537.50" y1="636.20" x2="1548.10" y2="636.20" stroke="#000" stroke-width="1.3"/>
<line x1="1548.10" y1="636.20" x2="1548.10" y2="641.20" stroke="#000" stroke-width="1.3"/>
<line x1="1537.50" y1="513.78" x2="1548.10" y2="513.78" stroke="#000" stroke-width="1.3"/>
<line x1="1668.08" y1="636.20" x2="1668.08" y2="641.20" stroke="#000" stroke-width="1.3"/>
<line x1="1537.50" y1="391.36" x2="1548.10" y2="391.36" stroke="#000" stroke-width="1.3"/>
<line x1="1788.06" y1="636.20" x2="1788.06" y2="641.20" stroke="#000" stroke-width="1.3"/>
<line x1="1537.50" y1="268.94" x2="1548.10" y2="268.94" stroke="#000" stroke-width="1.3"/>
<line x1="1908.04" y1="636.20" x2="1908.04" y2="641.20" stroke="#000" stroke-width="1.3"/>
<line x1="1537.50" y1="146.52" x2="1548.10" y2="146.52" stroke="#000" stroke-width="1.3"/>
<line x1="2028.02" y1="636.20" x2="2028.02" y2="641.20" stroke="#000" stroke-width="1.3"/>
<line x1="1537.50" y1="24.10" x2="1548.10" y2="24.10" stroke="#000" stroke-width="1.3"/>
<line x1="2148.00" y1="636.20" x2="2148.00" y2="641.20" stroke="#000" stroke-width="1.3"/>
<rect x="1548.10" y="24.10" width="599.90" height="612.10" fill="none" stroke="#000" stroke-width="2.0"/>
<text x="1509.31" y="646.80" font-size="23.3" textLength="15.44" lengthAdjust="spacingAndGlyphs">0</text>
<text x="1540.12" y="673.30" font-size="23.3" textLength="15.92" lengthAdjust="spacingAndGlyphs">0</text>
<text x="1490.49" y="522.08" font-size="23.3" textLength="35.95" lengthAdjust="spacingAndGlyphs">0.2</text>
<text x="1648.95" y="673.30" font-size="23.3" textLength="36.49" lengthAdjust="spacingAndGlyphs">0.2</text>
<text x="1490.53" y="399.66" font-size="23.3" textLength="34.79" lengthAdjust="spacingAndGlyphs">0.4</text>
<text x="1768.97" y="673.30" font-size="23.3" textLength="35.32" lengthAdjust="spacingAndGlyphs">0.4</text>
<text x="1490.49" y="277.24" font-size="23.3" textLength="35.95" lengthAdjust="spacingAndGlyphs">0.6</text>
<text x="1888.91" y="673.30" font-size="23.3" textLength="36.49" lengthAdjust="spacingAndGlyphs">0.6</text>
<text x="1490.49" y="154.82" font-size="23.3" textLength="35.95" lengthAdjust="spacingAndGlyphs">0.8</text>
<text x="2008.89" y="673.30" font-size="23.3" textLength="36.49" lengthAdjust="spacingAndGlyphs">0.8</text>
<text x="1492.83" y="32.40" font-size="23.3" textLength="31.96" lengthAdjust="spacingAndGlyphs">1.0</text>
<text x="2128.15" y="673.30" font-size="23.3" textLength="31.53" lengthAdjust="spacingAndGlyphs">1.0</text>
<rect x="1611.20" y="378.60" width="527.40" height="248.00" rx="4" ry="4" fill="#fff" fill-opacity="0.88" stroke="#cccccc" stroke-opacity="0.8" stroke-width="1.1"/>
<line x1="1617.40" y1="393.00" x2="1656.40" y2="393.00" stroke="#ff0000" stroke-width="2.2"/>
<text x="1669.25" y="398.80" font-size="21" textLength="237.95" lengthAdjust="spacingAndGlyphs">Baseline: NN @Features</text>
<text x="2005.00" y="400.80" font-size="21" textLength="117.84" lengthAdjust="spacingAndGlyphs">AUC: 0.6714</text>
<line x1="1617.40" y1="420.10" x2="1656.40" y2="420.10" stroke="#00ffff" stroke-width="2.2"/>
<text x="1670.28" y="423.80" font-size="21" textLength="159.74" lengthAdjust="spacingAndGlyphs">GNN @Features</text>
<text x="2005.00" y="425.80" font-size="21" textLength="123.79" lengthAdjust="spacingAndGlyphs">AUC: 0.8256</text>
<line x1="1617.40" y1="447.20" x2="1656.40" y2="447.20" stroke="#008000" stroke-width="2.2"/>
<text x="1669.26" y="450.80" font-size="21" textLength="311.25" lengthAdjust="spacingAndGlyphs">Embeddings: NN @MatSciBERT</text>
<text x="2005.00" y="452.80" font-size="21" textLength="123.79" lengthAdjust="spacingAndGlyphs">AUC: 0.8256</text>
<line x1="1617.40" y1="474.30" x2="1656.40" y2="474.30" stroke="#0000ff" stroke-width="2.2"/>
<text x="1669.32" y="477.90" font-size="21" textLength="281.59" lengthAdjust="spacingAndGlyphs">NN @Features + MatSciBERT</text>
<text x="2005.00" y="479.90" font-size="21" textLength="125.61" lengthAdjust="spacingAndGlyphs">AUC: 0.6920</text>
<line x1="1617.40" y1="501.40" x2="1656.40" y2="501.40" stroke="#ffa500" stroke-width="2.2"/>
<text x="1669.23" y="504.70" font-size="21" textLength="314.19" lengthAdjust="spacingAndGlyphs">Mixture: Baseline &amp; Embeddings</text>
<text x="2005.00" y="506.70" font-size="21" textLength="123.79" lengthAdjust="spacingAndGlyphs">AUC: 0.7830</text>
<line x1="1617.40" y1="528.50" x2="1656.40" y2="528.50" stroke="#808080" stroke-width="2.2"/>
<text x="1669.59" y="532.70" font-size="22.4" font-weight="bold" textLength="291.69" lengthAdjust="spacingAndGlyphs" stroke="#000" stroke-width="0.45">Mixture: GNN &amp; Embeddings</text>
<text x="2004.19" y="534.70" font-size="22.4" font-weight="bold" textLength="131.99" lengthAdjust="spacingAndGlyphs" stroke="#000" stroke-width="0.45">AUC: 0.8387</text>
<line x1="1617.40" y1="555.60" x2="1656.40" y2="555.60" stroke="#800080" stroke-width="2.2"/>
<text x="1669.36" y="560.20" font-size="21" textLength="109.56" lengthAdjust="spacingAndGlyphs">NN @BERT</text>
<text x="2005.00" y="562.20" font-size="21" textLength="117.84" lengthAdjust="spacingAndGlyphs">AUC: 0.7914</text>
<line x1="1617.40" y1="582.70" x2="1656.40" y2="582.70" stroke="#808000" stroke-width="2.2"/>
<text x="1669.29" y="586.50" font-size="21" textLength="227.06" lengthAdjust="spacingAndGlyphs">Fine-tuned MatSciBERT</text>
<text x="2005.00" y="588.50" font-size="21" textLength="122.57" lengthAdjust="spacingAndGlyphs">AUC: 0.7928</text>
<line x1="1617.40" y1="609.80" x2="1656.40" y2="609.80" stroke="#000080" stroke-width="2.2" stroke-dasharray="7.4 8.2"/>
<text x="1669.21" y="616.70" font-size="21" textLength="82.84" lengthAdjust="spacingAndGlyphs">Random</text>
<text x="274.07" y="717.60" font-size="26.5" textLength="229.25" lengthAdjust="spacingAndGlyphs">False positive rate</text>
<text x="1021.86" y="717.60" font-size="26.5" textLength="229.65" lengthAdjust="spacingAndGlyphs">False positive rate</text>
<text x="1723.76" y="717.60" font-size="26.5" textLength="229.76" lengthAdjust="spacingAndGlyphs">False positive rate</text>
<g transform="translate(20.20,0) rotate(-90)"><text x="-430.06" y="0.00" font-size="27.2" textLength="220.54" lengthAdjust="spacingAndGlyphs">True positive rate</text></g>
<g transform="translate(745.20,0) rotate(-90)"><text x="-428.06" y="0.00" font-size="27.2" textLength="220.64" lengthAdjust="spacingAndGlyphs">True positive rate</text></g>
<g transform="translate(1469.30,0) rotate(-90)"><text x="-428.06" y="0.00" font-size="27.2" textLength="220.64" lengthAdjust="spacingAndGlyphs">True positive rate</text></g>
<text x="1.60" y="22.70" font-size="38.5" font-weight="bold" textLength="19.38" lengthAdjust="spacingAndGlyphs" stroke="#000" stroke-width="1.2">a</text>
<text x="722.71" y="28.50" font-size="38.5" font-weight="bold" textLength="26.63" lengthAdjust="spacingAndGlyphs" stroke="#000" stroke-width="1.2">b</text>
<text x="1448.00" y="28.80" font-size="38.5" font-weight="bold" textLength="24.64" lengthAdjust="spacingAndGlyphs" stroke="#000" stroke-width="1.2">c</text>
</svg>
</body></html>
